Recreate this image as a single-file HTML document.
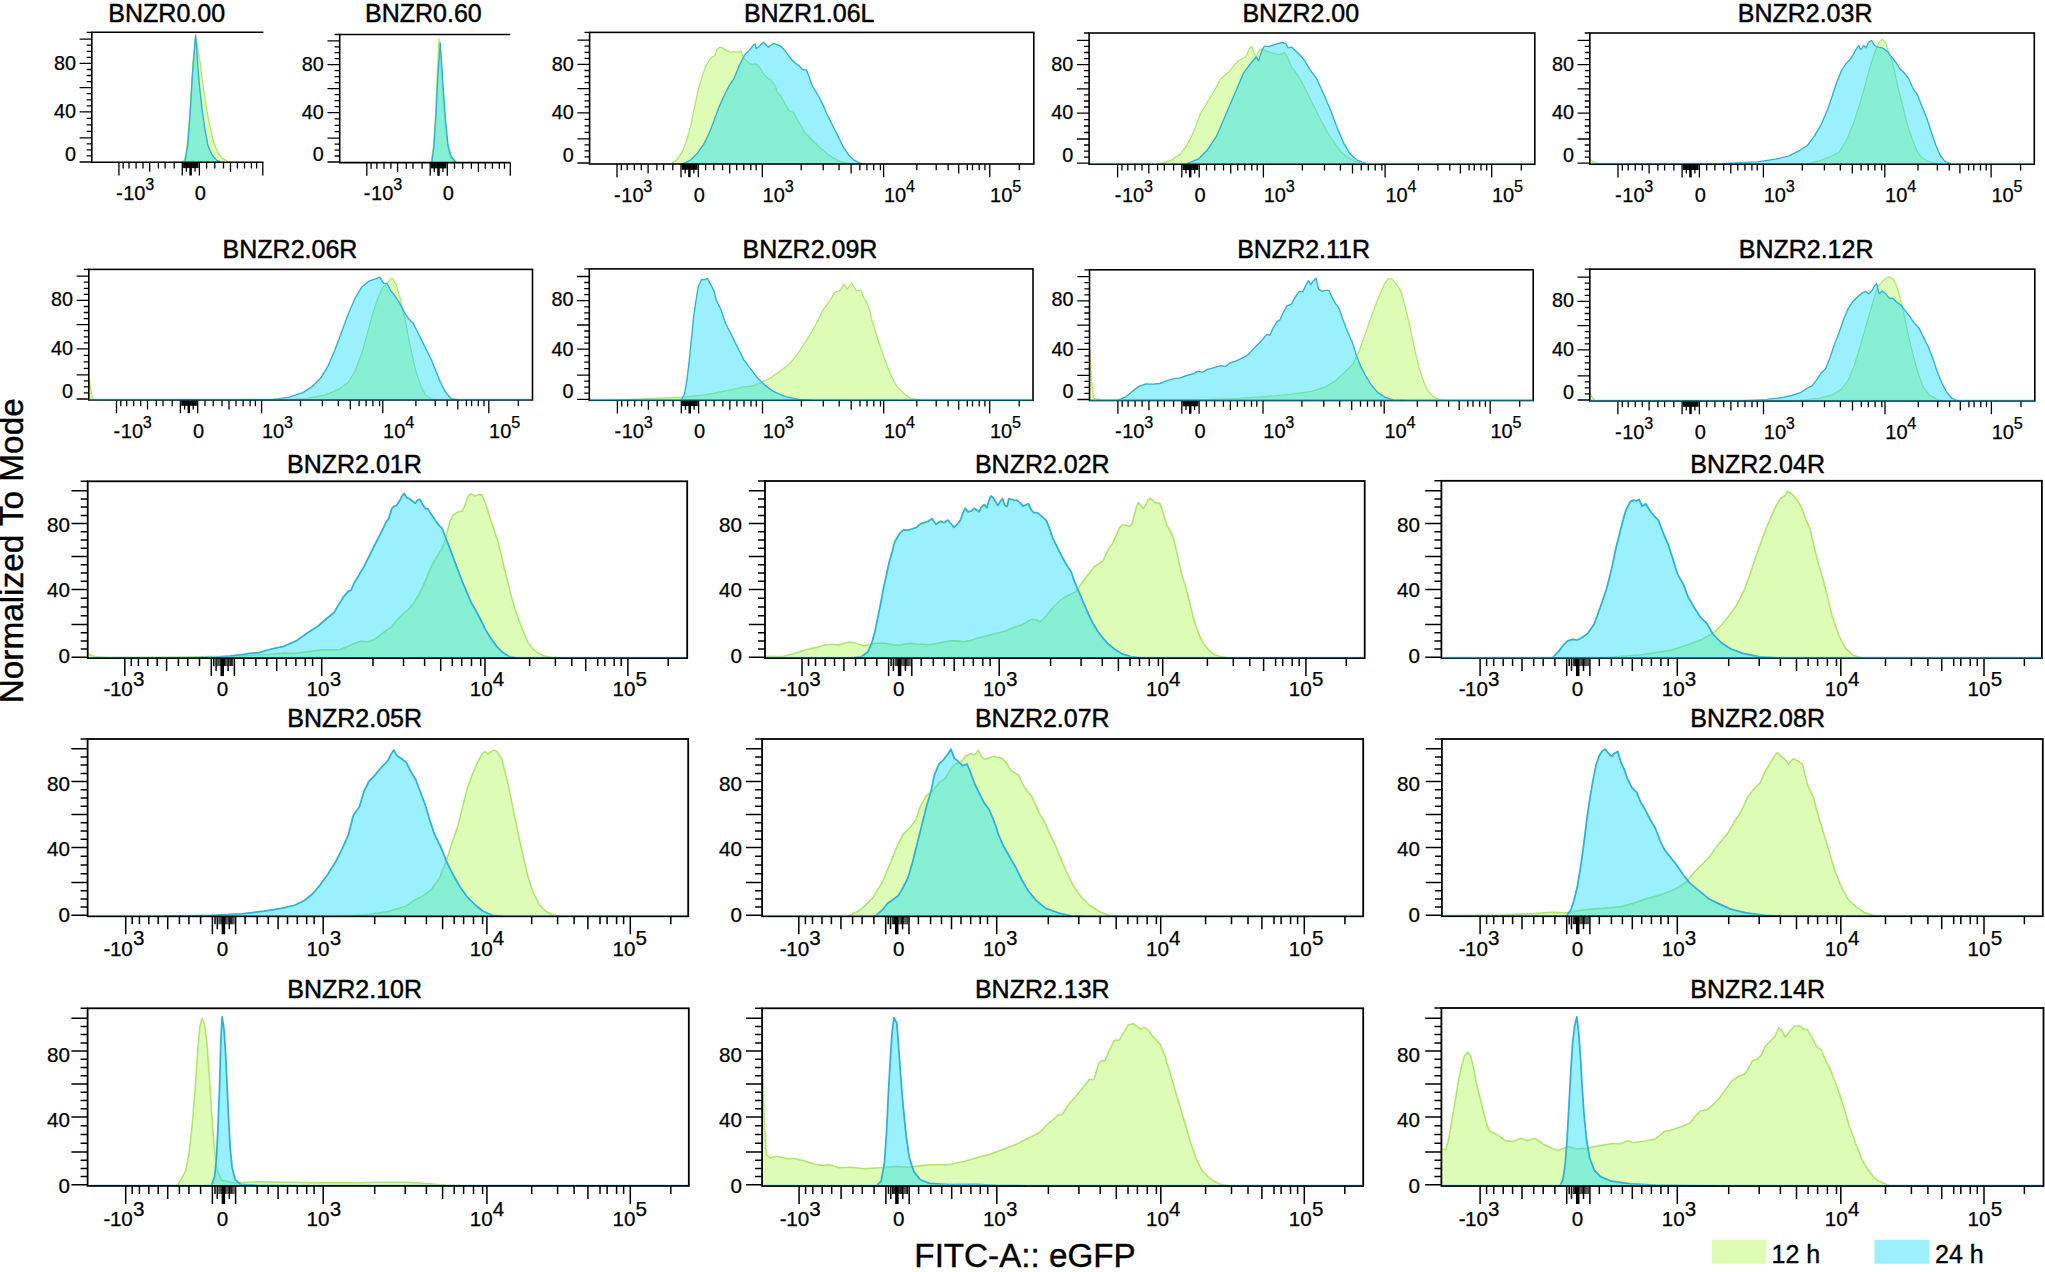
<!DOCTYPE html>
<html lang="en"><head><meta charset="utf-8"><title>FITC-A:: eGFP histograms</title>
<style>
html,body{margin:0;padding:0;background:#fff;}
body{width:2045px;height:1272px;overflow:hidden;font-family:"Liberation Sans", Arial, Helvetica, sans-serif;}
svg{display:block;position:absolute;left:0;top:0;}
</style></head><body>
<svg width="2045" height="1272" viewBox="0 0 2045 1272" font-family="'Liberation Sans', Arial, Helvetica, sans-serif" fill="#000">
<g id="p1">
<text x="166.7" y="21.7" font-size="25" text-anchor="middle" stroke="#000" stroke-width="0.45">BNZR0.00</text>
<clipPath id="cp1"><rect x="91.8" y="32.3" width="171.6" height="131"/></clipPath>
<g clip-path="url(#cp1)">
<path d="M183.8,162.3L183.8,161.5L186.1,153.6L188.5,130.1L190.8,98.6L193.2,59.3L195.6,35.7L197.9,48.3L200.3,64L202.6,82.9L205.8,103.3L208.9,122.2L212.9,139.5L216.8,150.5L221.5,157.6L227.8,161.5L227.8,162.3Z" fill="rgba(178,253,90,0.43)"/>
<path d="M183.8,161.5L186.1,153.6L188.5,130.1L190.8,98.6L193.2,59.3L195.6,35.7L197.9,48.3L200.3,64L202.6,82.9L205.8,103.3L208.9,122.2L212.9,139.5L216.8,150.5L221.5,157.6L227.8,161.5" fill="none" stroke="#b1e56e" stroke-width="1.25" stroke-linejoin="round"/>
<path d="M185,162.3L185,161.5L187.7,145.8L190.1,114.3L192.4,75L194.5,48.3L195.6,34.9L196.7,48.3L197.9,67.2L199.5,86L201.9,108.1L205,130.1L208.1,145.8L212.1,155.2L216.8,160.4L219.9,161.5L219.9,162.3Z" fill="rgba(22,220,250,0.43)"/>
<path d="M185,161.5L187.7,145.8L190.1,114.3L192.4,75L194.5,48.3L195.6,34.9L196.7,48.3L197.9,67.2L199.5,86L201.9,108.1L205,130.1L208.1,145.8L212.1,155.2L216.8,160.4L219.9,161.5" fill="none" stroke="#2fb0d4" stroke-width="1.35" stroke-linejoin="round"/>
</g>
<path d="M263.4,32.3H91.8V162.3H263.4" fill="none" stroke="#000" stroke-width="1.6"/>
<path d="M86.7,32.3h5.1M79.6,162h12.2M86.7,155.9h5.1M86.7,149.9h5.1M86.7,143.8h5.1M79.6,137.8h12.2M86.7,131.3h5.1M86.7,124.8h5.1M86.7,118.4h5.1M79.6,111.9h12.2M86.7,105.8h5.1M86.7,99.8h5.1M86.7,93.7h5.1M79.6,87.7h12.2M86.7,81.6h5.1M86.7,75.5h5.1M86.7,69.5h5.1M79.6,63.4h12.2M86.7,57.4h5.1M86.7,51.3h5.1M86.7,45.2h5.1M79.6,39.2h12.2" stroke="#000" stroke-width="1.3" fill="none"/>
<text x="75.9" y="69.5" font-size="19.8" stroke="#000" stroke-width="0.25" text-anchor="end">80</text>
<text x="75.9" y="118" font-size="19.8" stroke="#000" stroke-width="0.25" text-anchor="end">40</text>
<text x="75.9" y="161" font-size="19.8" stroke="#000" stroke-width="0.25" text-anchor="end">0</text>
<rect x="183.1" y="162.3" width="15.5" height="5.8" fill="#000" opacity="0.95"/>
<path d="M118.9,162.3v13.2M123.2,162.3v6.2M129,162.3v6.2M136.1,162.3v6.2M143,162.3v6.2M149.7,162.3v9.4M158.4,162.3v6.2M165.1,162.3v6.2M174.2,162.3v6.2M182.3,162.3v13.2M199.4,162.3v13.2M206.6,162.3v6.2M214.8,162.3v6.2M223.5,162.3v6.2M230.5,162.3v9.4M237.4,162.3v6.2M244.5,162.3v6.2M251.4,162.3v6.2M256.6,162.3v6.2M262.8,162.3v13.2M186.4,162.3v9.4M195,162.3v9.4" stroke="#000" stroke-width="1.3" fill="none"/>
<path d="M190.6,162.3v13.2" stroke="#000" stroke-width="2.5" fill="none"/>
<text x="122.6" y="200" font-size="20" stroke="#000" stroke-width="0.25" text-anchor="end">-</text>
<text x="123.2" y="200" font-size="20" stroke="#000" stroke-width="0.25">10<tspan dy="-9.9" dx="-0.2" font-size="16.2">3</tspan></text>
<text x="200.4" y="200" font-size="20" stroke="#000" stroke-width="0.25" text-anchor="middle">0</text>
</g>
<g id="p2">
<text x="423.4" y="21.7" font-size="25" text-anchor="middle" stroke="#000" stroke-width="0.45">BNZR0.60</text>
<clipPath id="cp2"><rect x="339.7" y="34.5" width="170.6" height="129.1"/></clipPath>
<g clip-path="url(#cp2)">
<path d="M431.3,162.6L431.3,162L433.5,145.8L435.6,114.3L437.1,75L439,38.9L440.8,59.3L442.6,90.8L445,122.2L447.4,145.8L450.5,157.6L454.4,162L454.4,162.6Z" fill="rgba(178,253,90,0.43)"/>
<path d="M431.3,162L433.5,145.8L435.6,114.3L437.1,75L439,38.9L440.8,59.3L442.6,90.8L445,122.2L447.4,145.8L450.5,157.6L454.4,162" fill="none" stroke="#b1e56e" stroke-width="1.25" stroke-linejoin="round"/>
<path d="M431.9,162.6L431.9,162L434,145.8L436,114.3L437.9,75L440.3,42.8L441.4,59.3L443.4,90.8L445.8,122.2L448.1,145.8L451.3,156.8L456,162L456,162.6Z" fill="rgba(22,220,250,0.43)"/>
<path d="M431.9,162L434,145.8L436,114.3L437.9,75L440.3,42.8L441.4,59.3L443.4,90.8L445.8,122.2L448.1,145.8L451.3,156.8L456,162" fill="none" stroke="#2fb0d4" stroke-width="1.35" stroke-linejoin="round"/>
</g>
<path d="M510.3,34.5H339.7V162.6H510.3" fill="none" stroke="#000" stroke-width="1.6"/>
<path d="M334.6,34.5h5.1M327.5,162h12.2M334.6,156h5.1M334.6,150.1h5.1M334.6,144.1h5.1M327.5,138.1h12.2M334.6,131.7h5.1M334.6,125.3h5.1M334.6,118.9h5.1M327.5,112.6h12.2M334.6,106.6h5.1M334.6,100.6h5.1M334.6,94.6h5.1M327.5,88.6h12.2M334.6,82.6h5.1M334.6,76.7h5.1M334.6,70.7h5.1M327.5,64.7h12.2M334.6,58.7h5.1M334.6,52.7h5.1M334.6,46.8h5.1M327.5,40.8h12.2" stroke="#000" stroke-width="1.3" fill="none"/>
<text x="323.8" y="70.8" font-size="19.8" stroke="#000" stroke-width="0.25" text-anchor="end">80</text>
<text x="323.8" y="118.6" font-size="19.8" stroke="#000" stroke-width="0.25" text-anchor="end">40</text>
<text x="323.8" y="161" font-size="19.8" stroke="#000" stroke-width="0.25" text-anchor="end">0</text>
<rect x="431" y="162.6" width="15.5" height="5.8" fill="#000" opacity="0.95"/>
<path d="M366.8,162.6v13.2M371.1,162.6v6.2M376.9,162.6v6.2M384,162.6v6.2M390.9,162.6v6.2M397.6,162.6v9.4M406.3,162.6v6.2M413,162.6v6.2M422.1,162.6v6.2M430.2,162.6v13.2M447.3,162.6v13.2M454.5,162.6v6.2M462.7,162.6v6.2M471.4,162.6v6.2M478.4,162.6v9.4M485.3,162.6v6.2M492.4,162.6v6.2M499.3,162.6v6.2M504.5,162.6v6.2M510.3,162.6v13.2M434.3,162.6v9.4M442.9,162.6v9.4" stroke="#000" stroke-width="1.3" fill="none"/>
<path d="M438.5,162.6v13.2" stroke="#000" stroke-width="2.5" fill="none"/>
<text x="370.5" y="200.3" font-size="20" stroke="#000" stroke-width="0.25" text-anchor="end">-</text>
<text x="371.1" y="200.3" font-size="20" stroke="#000" stroke-width="0.25">10<tspan dy="-9.9" dx="-0.2" font-size="16.2">3</tspan></text>
<text x="448.3" y="200.3" font-size="20" stroke="#000" stroke-width="0.25" text-anchor="middle">0</text>
</g>
<g id="p3">
<text x="809.2" y="21.7" font-size="25" text-anchor="middle" stroke="#000" stroke-width="0.45">BNZR1.06L</text>
<clipPath id="cp3"><rect x="589.6" y="32.4" width="444.2" height="132.6"/></clipPath>
<g clip-path="url(#cp3)">
<path d="M671.8,164L671.8,163.6L678.1,158.5L683.2,149.6L687,139.4L690.9,125.4L694.7,106.4L698.5,88.6L702.3,75.9L706.1,65.7L709.9,59.3L712.5,56.8L715,55.5L716.9,49.8L719.5,47.2L722.6,47.9L726.5,50.4L730.3,52.3L734.1,51.7L737.9,52.3L741.1,51.1L743,56.8L746.2,60.6L749.3,63.1L751.9,64.4L755.7,63.8L759.5,67L763.3,73.3L767.1,77.8L771,80.3L774.8,84.8L777.3,92.4L781.1,96.2L784.9,103.8L788.8,110.2L793.8,112.7L797.7,120.4L801.5,126.7L805.3,133.1L810.4,138.2L815.5,143.2L820.5,148.3L826.9,153.4L833.3,157.9L840.9,161.7L849.8,163.6L849.8,164Z" fill="rgba(178,253,90,0.43)"/>
<path d="M671.8,163.6L678.1,158.5L683.2,149.6L687,139.4L690.9,125.4L694.7,106.4L698.5,88.6L702.3,75.9L706.1,65.7L709.9,59.3L712.5,56.8L715,55.5L716.9,49.8L719.5,47.2L722.6,47.9L726.5,50.4L730.3,52.3L734.1,51.7L737.9,52.3L741.1,51.1L743,56.8L746.2,60.6L749.3,63.1L751.9,64.4L755.7,63.8L759.5,67L763.3,73.3L767.1,77.8L771,80.3L774.8,84.8L777.3,92.4L781.1,96.2L784.9,103.8L788.8,110.2L793.8,112.7L797.7,120.4L801.5,126.7L805.3,133.1L810.4,138.2L815.5,143.2L820.5,148.3L826.9,153.4L833.3,157.9L840.9,161.7L849.8,163.6" fill="none" stroke="#b1e56e" stroke-width="1.25" stroke-linejoin="round"/>
<path d="M683.2,164L683.2,163.6L690.9,159.8L697.2,153.4L703.6,144.5L708.7,134.3L713.7,121.6L718.8,107.6L723.9,96.2L729,86L734.1,78.4L739.2,65.7L744.3,55.5L749.3,50.4L753.2,45.3L755.1,44.1L756.3,48.5L759.5,46L763.3,42.2L766.5,45.3L768.4,47.2L771,45.3L773.5,43.4L777.3,44.7L781.1,46.6L783.7,49.2L787.5,54.2L791.3,59.3L795.1,63.1L798.9,65.7L802.7,69.5L806.6,70.1L809.1,77.1L812.3,86L815.5,91.1L819.3,97.5L823.1,105.1L826.9,114L830.7,121.6L834.5,129.3L838.3,136.9L843.4,147.1L848.5,154.7L853.6,159.8L858.7,162.7L863.8,163.8L863.8,164Z" fill="rgba(22,220,250,0.43)"/>
<path d="M683.2,163.6L690.9,159.8L697.2,153.4L703.6,144.5L708.7,134.3L713.7,121.6L718.8,107.6L723.9,96.2L729,86L734.1,78.4L739.2,65.7L744.3,55.5L749.3,50.4L753.2,45.3L755.1,44.1L756.3,48.5L759.5,46L763.3,42.2L766.5,45.3L768.4,47.2L771,45.3L773.5,43.4L777.3,44.7L781.1,46.6L783.7,49.2L787.5,54.2L791.3,59.3L795.1,63.1L798.9,65.7L802.7,69.5L806.6,70.1L809.1,77.1L812.3,86L815.5,91.1L819.3,97.5L823.1,105.1L826.9,114L830.7,121.6L834.5,129.3L838.3,136.9L843.4,147.1L848.5,154.7L853.6,159.8L858.7,162.7L863.8,163.8" fill="none" stroke="#2fb0d4" stroke-width="1.35" stroke-linejoin="round"/>
</g>
<rect x="589.6" y="32.4" width="444.2" height="131.6" fill="none" stroke="#000" stroke-width="1.6"/>
<path d="M584.5,32.4h5.1M577.4,163h12.2M584.5,156.9h5.1M584.5,150.9h5.1M584.5,144.8h5.1M577.4,138.8h12.2M584.5,132.3h5.1M584.5,125.8h5.1M584.5,119.4h5.1M577.4,112.9h12.2M584.5,106.8h5.1M584.5,100.8h5.1M584.5,94.7h5.1M577.4,88.7h12.2M584.5,82.6h5.1M584.5,76.5h5.1M584.5,70.5h5.1M577.4,64.4h12.2M584.5,58.4h5.1M584.5,52.3h5.1M584.5,46.2h5.1M577.4,40.2h12.2" stroke="#000" stroke-width="1.3" fill="none"/>
<text x="573.7" y="70.5" font-size="19.8" stroke="#000" stroke-width="0.25" text-anchor="end">80</text>
<text x="573.7" y="119" font-size="19.8" stroke="#000" stroke-width="0.25" text-anchor="end">40</text>
<text x="573.7" y="162" font-size="19.8" stroke="#000" stroke-width="0.25" text-anchor="end">0</text>
<rect x="681.8" y="164" width="15.7" height="5.8" fill="#000" opacity="0.95"/>
<path d="M617,164v13.2M621.3,164v6.2M627.2,164v6.2M634.3,164v6.2M641.3,164v6.2M648.1,164v9.4M656.9,164v6.2M663.6,164v6.2M672.8,164v6.2M681,164v13.2M698.3,164v13.2M705.6,164v6.2M713.8,164v6.2M722.6,164v6.2M729.7,164v9.4M736.7,164v6.2M743.8,164v6.2M750.8,164v6.2M756.1,164v6.2M762.3,164v13.2M801.2,164v6.2M823.2,164v6.2M839.1,164v6.2M851.1,164v9.4M859.9,164v6.2M866.9,164v6.2M873.7,164v6.2M880.4,164v6.2M883.6,164v13.2M916.8,164v6.2M936.2,164v6.2M948.1,164v6.2M958.7,164v9.4M967.3,164v6.2M972.5,164v6.2M979.2,164v6.2M984.9,164v6.2M989.8,164v13.2M1019.3,164v6.2M685.2,164v9.4M693.9,164v9.4" stroke="#000" stroke-width="1.3" fill="none"/>
<path d="M689.4,164v13.2" stroke="#000" stroke-width="2.5" fill="none"/>
<text x="620.7" y="201.7" font-size="20" stroke="#000" stroke-width="0.25" text-anchor="end">-</text>
<text x="621.3" y="201.7" font-size="20" stroke="#000" stroke-width="0.25">10<tspan dy="-9.9" dx="-0.2" font-size="16.2">3</tspan></text>
<text x="762.6" y="201.7" font-size="20" stroke="#000" stroke-width="0.25">10<tspan dy="-9.9" dx="-0.2" font-size="16.2">3</tspan></text>
<text x="883.9" y="201.7" font-size="20" stroke="#000" stroke-width="0.25">10<tspan dy="-9.9" dx="-0.2" font-size="16.2">4</tspan></text>
<text x="990.1" y="201.7" font-size="20" stroke="#000" stroke-width="0.25">10<tspan dy="-9.9" dx="-0.2" font-size="16.2">5</tspan></text>
<text x="699.2" y="201.7" font-size="20" stroke="#000" stroke-width="0.25" text-anchor="middle">0</text>
</g>
<g id="p4">
<text x="1300.8" y="21.7" font-size="25" text-anchor="middle" stroke="#000" stroke-width="0.45">BNZR2.00</text>
<clipPath id="cp4"><rect x="1089.1" y="33" width="445.7" height="132.2"/></clipPath>
<g clip-path="url(#cp4)">
<path d="M1159.6,164.2L1159.6,163.7L1171,160.3L1180,154.6L1186.9,145.5L1193.7,131.9L1200.5,113.7L1207.3,102.3L1214.2,91L1221,78.4L1227.8,72.8L1234.6,64.8L1239.2,60.3L1246,56.8L1249.4,48.9L1251.7,46.2L1253.9,53.4L1256.2,55.7L1259.6,50L1261.9,48.9L1266.5,51.2L1273.3,53.4L1280.1,54.6L1284.6,52.3L1288.1,59.1L1291.5,67.1L1296,72.8L1301.7,81.9L1307.4,93.2L1314.2,106.9L1321,120.5L1327.8,133L1334.7,143.3L1341.5,152.3L1348.3,158L1355.1,161.4L1364.2,163.7L1364.2,164.2Z" fill="rgba(178,253,90,0.43)"/>
<path d="M1159.6,163.7L1171,160.3L1180,154.6L1186.9,145.5L1193.7,131.9L1200.5,113.7L1207.3,102.3L1214.2,91L1221,78.4L1227.8,72.8L1234.6,64.8L1239.2,60.3L1246,56.8L1249.4,48.9L1251.7,46.2L1253.9,53.4L1256.2,55.7L1259.6,50L1261.9,48.9L1266.5,51.2L1273.3,53.4L1280.1,54.6L1284.6,52.3L1288.1,59.1L1291.5,67.1L1296,72.8L1301.7,81.9L1307.4,93.2L1314.2,106.9L1321,120.5L1327.8,133L1334.7,143.3L1341.5,152.3L1348.3,158L1355.1,161.4L1364.2,163.7" fill="none" stroke="#b1e56e" stroke-width="1.25" stroke-linejoin="round"/>
<path d="M1186.9,164.2L1186.9,163.7L1198.2,159.2L1207.3,150.1L1216.4,136.4L1223.3,120.5L1230.1,104.6L1236.9,88.7L1243.7,72.8L1250.5,63.7L1256.2,56.8L1258.5,60.9L1261.9,50.5L1264.2,46.2L1268.7,46.6L1273.3,45L1277.8,43.7L1282.4,42.5L1285.8,43.7L1288.1,47.8L1291.5,47.1L1296,51.2L1300.6,55.7L1305.1,61.4L1309.7,69.4L1316.5,78.4L1323.3,93.2L1330.1,109.1L1336.9,127.3L1343.8,143.3L1350.6,154.6L1357.4,160.3L1366.5,163.7L1366.5,164.2Z" fill="rgba(22,220,250,0.43)"/>
<path d="M1186.9,163.7L1198.2,159.2L1207.3,150.1L1216.4,136.4L1223.3,120.5L1230.1,104.6L1236.9,88.7L1243.7,72.8L1250.5,63.7L1256.2,56.8L1258.5,60.9L1261.9,50.5L1264.2,46.2L1268.7,46.6L1273.3,45L1277.8,43.7L1282.4,42.5L1285.8,43.7L1288.1,47.8L1291.5,47.1L1296,51.2L1300.6,55.7L1305.1,61.4L1309.7,69.4L1316.5,78.4L1323.3,93.2L1330.1,109.1L1336.9,127.3L1343.8,143.3L1350.6,154.6L1357.4,160.3L1366.5,163.7" fill="none" stroke="#2fb0d4" stroke-width="1.35" stroke-linejoin="round"/>
</g>
<rect x="1089.1" y="33" width="445.7" height="131.2" fill="none" stroke="#000" stroke-width="1.6"/>
<path d="M1084,33h5.1M1076.9,163.2h12.2M1084,157.1h5.1M1084,151.1h5.1M1084,145h5.1M1076.9,139h12.2M1084,132.5h5.1M1084,126h5.1M1084,119.6h5.1M1076.9,113.1h12.2M1084,107h5.1M1084,101h5.1M1084,94.9h5.1M1076.9,88.9h12.2M1084,82.8h5.1M1084,76.7h5.1M1084,70.7h5.1M1076.9,64.6h12.2M1084,58.6h5.1M1084,52.5h5.1M1084,46.4h5.1M1076.9,40.4h12.2" stroke="#000" stroke-width="1.3" fill="none"/>
<text x="1073.2" y="70.7" font-size="19.8" stroke="#000" stroke-width="0.25" text-anchor="end">80</text>
<text x="1073.2" y="119.2" font-size="19.8" stroke="#000" stroke-width="0.25" text-anchor="end">40</text>
<text x="1073.2" y="162.2" font-size="19.8" stroke="#000" stroke-width="0.25" text-anchor="end">0</text>
<rect x="1182.6" y="164.2" width="15.8" height="5.8" fill="#000" opacity="0.95"/>
<path d="M1117.6,164.2v13.2M1121.9,164.2v6.2M1127.8,164.2v6.2M1135,164.2v6.2M1142,164.2v6.2M1148.8,164.2v9.4M1157.6,164.2v6.2M1164.3,164.2v6.2M1173.6,164.2v6.2M1181.8,164.2v13.2M1199.2,164.2v13.2M1206.5,164.2v6.2M1214.7,164.2v6.2M1223.5,164.2v6.2M1230.7,164.2v9.4M1237.7,164.2v6.2M1244.8,164.2v6.2M1251.8,164.2v6.2M1257.2,164.2v6.2M1263.4,164.2v13.2M1302.4,164.2v6.2M1324.5,164.2v6.2M1340.4,164.2v6.2M1352.5,164.2v9.4M1361.3,164.2v6.2M1368.3,164.2v6.2M1375.2,164.2v6.2M1381.9,164.2v6.2M1385.1,164.2v13.2M1418.4,164.2v6.2M1437.9,164.2v6.2M1449.8,164.2v6.2M1460.4,164.2v9.4M1469.1,164.2v6.2M1474.3,164.2v6.2M1481,164.2v6.2M1486.7,164.2v6.2M1491.7,164.2v13.2M1521.3,164.2v6.2M1186,164.2v9.4M1194.7,164.2v9.4" stroke="#000" stroke-width="1.3" fill="none"/>
<path d="M1190.2,164.2v13.2" stroke="#000" stroke-width="2.5" fill="none"/>
<path d="M1090.1,162.9H1533.8" stroke="#7fe3f7" stroke-width="1" opacity="0.45" fill="none"/>
<text x="1121.3" y="201.9" font-size="20" stroke="#000" stroke-width="0.25" text-anchor="end">-</text>
<text x="1121.9" y="201.9" font-size="20" stroke="#000" stroke-width="0.25">10<tspan dy="-9.9" dx="-0.2" font-size="16.2">3</tspan></text>
<text x="1263.7" y="201.9" font-size="20" stroke="#000" stroke-width="0.25">10<tspan dy="-9.9" dx="-0.2" font-size="16.2">3</tspan></text>
<text x="1385.4" y="201.9" font-size="20" stroke="#000" stroke-width="0.25">10<tspan dy="-9.9" dx="-0.2" font-size="16.2">4</tspan></text>
<text x="1492" y="201.9" font-size="20" stroke="#000" stroke-width="0.25">10<tspan dy="-9.9" dx="-0.2" font-size="16.2">5</tspan></text>
<text x="1200" y="201.9" font-size="20" stroke="#000" stroke-width="0.25" text-anchor="middle">0</text>
</g>
<g id="p5">
<text x="1805.1" y="21.7" font-size="25" text-anchor="middle" stroke="#000" stroke-width="0.45">BNZR2.03R</text>
<clipPath id="cp5"><rect x="1589.8" y="33" width="444.5" height="132.2"/></clipPath>
<g clip-path="url(#cp5)">
<path d="M1589.8,164.2L1589.8,159.2L1593.6,161.9L1598.2,163.5L1648.2,163.7L1807.4,163.7L1821,160.3L1830.1,156.9L1839.2,152.3L1846,141L1852.9,125.1L1859.7,104.6L1865.4,84.1L1871.1,63.7L1875.6,50L1879,42.1L1882.4,39.1L1885.8,43.2L1888.1,51.2L1891.5,59.1L1894.9,72.8L1898.3,88.7L1902.9,106.9L1907.4,125.1L1912,138.7L1916.5,150.1L1921.1,156.9L1927.9,161.4L1937,163.7L1937,164.2Z" fill="rgba(178,253,90,0.43)"/>
<path d="M1589.8,159.2L1593.6,161.9L1598.2,163.5L1648.2,163.7L1807.4,163.7L1821,160.3L1830.1,156.9L1839.2,152.3L1846,141L1852.9,125.1L1859.7,104.6L1865.4,84.1L1871.1,63.7L1875.6,50L1879,42.1L1882.4,39.1L1885.8,43.2L1888.1,51.2L1891.5,59.1L1894.9,72.8L1898.3,88.7L1902.9,106.9L1907.4,125.1L1912,138.7L1916.5,150.1L1921.1,156.9L1927.9,161.4L1937,163.7" fill="none" stroke="#b1e56e" stroke-width="1.25" stroke-linejoin="round"/>
<path d="M1721,164.2L1721,163.7L1757.4,161.9L1775.6,159.2L1789.2,155.8L1798.3,151.2L1807.4,145.5L1814.2,136.4L1821,125.1L1827.8,109.1L1832.4,95.5L1836.9,81.9L1841.5,70.5L1846,63.7L1850.6,59.1L1855.1,51.2L1858.5,45.5L1860.8,49.6L1863.8,45.5L1866,47.8L1868.8,42.1L1871.7,40.5L1874.5,45.5L1877.9,47.1L1882.4,47.8L1887,51.2L1891.5,56.8L1896.1,62.5L1899.5,68.2L1904,72.8L1908.6,78.4L1913.1,88.7L1917.7,95.5L1922.2,106.9L1926.8,118.2L1931.3,131.9L1935.9,145.5L1940.4,155.8L1945,161.4L1950.6,163.7L1950.6,164.2Z" fill="rgba(22,220,250,0.43)"/>
<path d="M1721,163.7L1757.4,161.9L1775.6,159.2L1789.2,155.8L1798.3,151.2L1807.4,145.5L1814.2,136.4L1821,125.1L1827.8,109.1L1832.4,95.5L1836.9,81.9L1841.5,70.5L1846,63.7L1850.6,59.1L1855.1,51.2L1858.5,45.5L1860.8,49.6L1863.8,45.5L1866,47.8L1868.8,42.1L1871.7,40.5L1874.5,45.5L1877.9,47.1L1882.4,47.8L1887,51.2L1891.5,56.8L1896.1,62.5L1899.5,68.2L1904,72.8L1908.6,78.4L1913.1,88.7L1917.7,95.5L1922.2,106.9L1926.8,118.2L1931.3,131.9L1935.9,145.5L1940.4,155.8L1945,161.4L1950.6,163.7" fill="none" stroke="#2fb0d4" stroke-width="1.35" stroke-linejoin="round"/>
</g>
<rect x="1589.8" y="33" width="444.5" height="131.2" fill="none" stroke="#000" stroke-width="1.6"/>
<path d="M1584.7,33h5.1M1577.6,163.2h12.2M1584.7,157.1h5.1M1584.7,151.1h5.1M1584.7,145h5.1M1577.6,139h12.2M1584.7,132.5h5.1M1584.7,126h5.1M1584.7,119.6h5.1M1577.6,113.1h12.2M1584.7,107h5.1M1584.7,101h5.1M1584.7,94.9h5.1M1577.6,88.9h12.2M1584.7,82.8h5.1M1584.7,76.7h5.1M1584.7,70.7h5.1M1577.6,64.6h12.2M1584.7,58.6h5.1M1584.7,52.5h5.1M1584.7,46.4h5.1M1577.6,40.4h12.2" stroke="#000" stroke-width="1.3" fill="none"/>
<text x="1573.9" y="70.7" font-size="19.8" stroke="#000" stroke-width="0.25" text-anchor="end">80</text>
<text x="1573.9" y="119.2" font-size="19.8" stroke="#000" stroke-width="0.25" text-anchor="end">40</text>
<text x="1573.9" y="162.2" font-size="19.8" stroke="#000" stroke-width="0.25" text-anchor="end">0</text>
<rect x="1682.9" y="164.2" width="15.7" height="5.8" fill="#000" opacity="0.95"/>
<path d="M1618,164.2v13.2M1622.3,164.2v6.2M1628.2,164.2v6.2M1635.3,164.2v6.2M1642.3,164.2v6.2M1649.1,164.2v9.4M1657.9,164.2v6.2M1664.6,164.2v6.2M1673.9,164.2v6.2M1682.1,164.2v13.2M1699.4,164.2v13.2M1706.7,164.2v6.2M1714.9,164.2v6.2M1723.7,164.2v6.2M1730.8,164.2v9.4M1737.8,164.2v6.2M1744.9,164.2v6.2M1751.9,164.2v6.2M1757.2,164.2v6.2M1763.4,164.2v13.2M1802.3,164.2v6.2M1824.4,164.2v6.2M1840.3,164.2v6.2M1852.3,164.2v9.4M1861.1,164.2v6.2M1868.1,164.2v6.2M1874.9,164.2v6.2M1881.6,164.2v6.2M1884.8,164.2v13.2M1918,164.2v6.2M1937.4,164.2v6.2M1949.3,164.2v6.2M1959.9,164.2v9.4M1968.6,164.2v6.2M1973.8,164.2v6.2M1980.5,164.2v6.2M1986.2,164.2v6.2M1991.1,164.2v13.2M2020.6,164.2v6.2M1686.3,164.2v9.4M1694.9,164.2v9.4" stroke="#000" stroke-width="1.3" fill="none"/>
<path d="M1690.5,164.2v13.2" stroke="#000" stroke-width="2.5" fill="none"/>
<path d="M1590.8,162.9H2033.3" stroke="#7fe3f7" stroke-width="1" opacity="0.45" fill="none"/>
<text x="1621.7" y="201.9" font-size="20" stroke="#000" stroke-width="0.25" text-anchor="end">-</text>
<text x="1622.3" y="201.9" font-size="20" stroke="#000" stroke-width="0.25">10<tspan dy="-9.9" dx="-0.2" font-size="16.2">3</tspan></text>
<text x="1763.7" y="201.9" font-size="20" stroke="#000" stroke-width="0.25">10<tspan dy="-9.9" dx="-0.2" font-size="16.2">3</tspan></text>
<text x="1885.1" y="201.9" font-size="20" stroke="#000" stroke-width="0.25">10<tspan dy="-9.9" dx="-0.2" font-size="16.2">4</tspan></text>
<text x="1991.4" y="201.9" font-size="20" stroke="#000" stroke-width="0.25">10<tspan dy="-9.9" dx="-0.2" font-size="16.2">5</tspan></text>
<text x="1700.3" y="201.9" font-size="20" stroke="#000" stroke-width="0.25" text-anchor="middle">0</text>
</g>
<g id="p6">
<text x="290" y="257.7" font-size="25" text-anchor="middle" stroke="#000" stroke-width="0.45">BNZR2.06R</text>
<clipPath id="cp6"><rect x="88.8" y="269.4" width="443.7" height="131.6"/></clipPath>
<g clip-path="url(#cp6)">
<path d="M89.1,400L89.1,377.8L90.7,389.2L92.5,399.4L102.7,400L284.6,400L307.4,398.3L325.6,394.9L339.2,389.2L348.3,382.3L355.1,371L362,352.8L367.6,332.3L373.3,311.9L377.9,298.2L382.4,288L387,283.4L390.4,278.9L392.7,278.4L396.1,284.6L399.5,295.9L402.9,309.6L406.3,325.5L409.7,343.7L413.1,359.6L416.5,373.3L421.1,386.9L425.6,394.9L432.4,399.4L439.3,400L439.3,400Z" fill="rgba(178,253,90,0.43)"/>
<path d="M89.1,377.8L90.7,389.2L92.5,399.4L102.7,400L284.6,400L307.4,398.3L325.6,394.9L339.2,389.2L348.3,382.3L355.1,371L362,352.8L367.6,332.3L373.3,311.9L377.9,298.2L382.4,288L387,283.4L390.4,278.9L392.7,278.4L396.1,284.6L399.5,295.9L402.9,309.6L406.3,325.5L409.7,343.7L413.1,359.6L416.5,373.3L421.1,386.9L425.6,394.9L432.4,399.4L439.3,400" fill="none" stroke="#b1e56e" stroke-width="1.25" stroke-linejoin="round"/>
<path d="M239.2,400L239.2,400L273.3,399.4L289.2,397.1L302.8,392.6L311.9,386.9L321,377.8L327.8,366.4L334.7,350.5L341.5,332.3L348.3,314.1L355.1,298.2L362,286.8L368.8,281.2L375.6,278.9L379.7,277.1L383.6,283.4L387,283.4L390.4,290.3L394.9,295.9L399.5,302.8L404,311.9L408.6,318.7L413.1,323.2L417.7,332.3L422.2,341.4L426.8,350.5L431.3,359.6L435.9,371L440.4,382.3L445,391.4L450.6,398.3L457.5,400L457.5,400Z" fill="rgba(22,220,250,0.43)"/>
<path d="M239.2,400L273.3,399.4L289.2,397.1L302.8,392.6L311.9,386.9L321,377.8L327.8,366.4L334.7,350.5L341.5,332.3L348.3,314.1L355.1,298.2L362,286.8L368.8,281.2L375.6,278.9L379.7,277.1L383.6,283.4L387,283.4L390.4,290.3L394.9,295.9L399.5,302.8L404,311.9L408.6,318.7L413.1,323.2L417.7,332.3L422.2,341.4L426.8,350.5L431.3,359.6L435.9,371L440.4,382.3L445,391.4L450.6,398.3L457.5,400" fill="none" stroke="#2fb0d4" stroke-width="1.35" stroke-linejoin="round"/>
</g>
<rect x="88.8" y="269.4" width="443.7" height="130.6" fill="none" stroke="#000" stroke-width="1.6"/>
<path d="M83.7,269.4h5.1M76.6,399h12.2M83.7,392.9h5.1M83.7,386.9h5.1M83.7,380.9h5.1M76.6,374.8h12.2M83.7,368.3h5.1M83.7,361.9h5.1M83.7,355.4h5.1M76.6,348.9h12.2M83.7,342.8h5.1M83.7,336.8h5.1M83.7,330.7h5.1M76.6,324.7h12.2M83.7,318.6h5.1M83.7,312.5h5.1M83.7,306.5h5.1M76.6,300.4h12.2M83.7,294.4h5.1M83.7,288.3h5.1M83.7,282.2h5.1M76.6,276.2h12.2" stroke="#000" stroke-width="1.3" fill="none"/>
<text x="72.9" y="305.7" font-size="19.8" stroke="#000" stroke-width="0.25" text-anchor="end">80</text>
<text x="72.9" y="355.3" font-size="19.8" stroke="#000" stroke-width="0.25" text-anchor="end">40</text>
<text x="72.9" y="397.5" font-size="19.8" stroke="#000" stroke-width="0.25" text-anchor="end">0</text>
<rect x="181.2" y="400" width="15.7" height="5.8" fill="#000" opacity="0.95"/>
<path d="M116.5,400v13.2M120.8,400v6.2M126.7,400v6.2M133.7,400v6.2M140.7,400v6.2M147.5,400v9.4M156.3,400v6.2M163,400v6.2M172.2,400v6.2M180.4,400v13.2M197.7,400v13.2M205,400v6.2M213.2,400v6.2M222,400v6.2M229,400v9.4M236,400v6.2M243.1,400v6.2M250.1,400v6.2M255.4,400v6.2M261.6,400v13.2M300.5,400v6.2M322.4,400v6.2M338.3,400v6.2M350.3,400v9.4M359.1,400v6.2M366.1,400v6.2M372.9,400v6.2M379.6,400v6.2M382.8,400v13.2M415.9,400v6.2M435.3,400v6.2M447.2,400v6.2M457.8,400v9.4M466.4,400v6.2M471.6,400v6.2M478.3,400v6.2M484,400v6.2M488.8,400v13.2M518.3,400v6.2M184.6,400v9.4M193.2,400v9.4" stroke="#000" stroke-width="1.3" fill="none"/>
<path d="M188.8,400v13.2" stroke="#000" stroke-width="2.5" fill="none"/>
<path d="M88.8,399.8H532.5" stroke="#2fb0d4" stroke-width="1.2" opacity="0.55" fill="none"/>
<path d="M89.8,398.7H531.5" stroke="#7fe3f7" stroke-width="1" opacity="0.45" fill="none"/>
<text x="120.2" y="437.7" font-size="20" stroke="#000" stroke-width="0.25" text-anchor="end">-</text>
<text x="120.8" y="437.7" font-size="20" stroke="#000" stroke-width="0.25">10<tspan dy="-9.9" dx="-0.2" font-size="16.2">3</tspan></text>
<text x="261.9" y="437.7" font-size="20" stroke="#000" stroke-width="0.25">10<tspan dy="-9.9" dx="-0.2" font-size="16.2">3</tspan></text>
<text x="383.1" y="437.7" font-size="20" stroke="#000" stroke-width="0.25">10<tspan dy="-9.9" dx="-0.2" font-size="16.2">4</tspan></text>
<text x="489.1" y="437.7" font-size="20" stroke="#000" stroke-width="0.25">10<tspan dy="-9.9" dx="-0.2" font-size="16.2">5</tspan></text>
<text x="198.6" y="437.7" font-size="20" stroke="#000" stroke-width="0.25" text-anchor="middle">0</text>
</g>
<g id="p7">
<text x="810" y="257.7" font-size="25" text-anchor="middle" stroke="#000" stroke-width="0.45">BNZR2.09R</text>
<clipPath id="cp7"><rect x="589.3" y="268.9" width="443.7" height="132.4"/></clipPath>
<g clip-path="url(#cp7)">
<path d="M614.1,400.3L614.1,400.3L648.2,398.7L682.3,397.1L705.1,394.9L721,391.9L734.6,389.2L743.7,386.9L752.8,385.8L761.9,382.3L771,377.8L780.1,371L789.2,364.2L796,356.2L802.8,346L809.7,335.7L816.5,323.2L823.3,309.6L830.1,300.5L834.7,292.5L840.4,290.3L843.8,284.1L847.2,289.1L851.7,283L854,286.8L856.3,290.3L860.8,290.3L864.2,298.2L868.8,307.3L872.2,321L875.6,332.3L880.1,346L884.7,359.6L889.2,371L893.8,381.2L898.3,388L905.2,394.9L912,398.7L921.1,400.3L921.1,400.3Z" fill="rgba(178,253,90,0.43)"/>
<path d="M614.1,400.3L648.2,398.7L682.3,397.1L705.1,394.9L721,391.9L734.6,389.2L743.7,386.9L752.8,385.8L761.9,382.3L771,377.8L780.1,371L789.2,364.2L796,356.2L802.8,346L809.7,335.7L816.5,323.2L823.3,309.6L830.1,300.5L834.7,292.5L840.4,290.3L843.8,284.1L847.2,289.1L851.7,283L854,286.8L856.3,290.3L860.8,290.3L864.2,298.2L868.8,307.3L872.2,321L875.6,332.3L880.1,346L884.7,359.6L889.2,371L893.8,381.2L898.3,388L905.2,394.9L912,398.7L921.1,400.3" fill="none" stroke="#b1e56e" stroke-width="1.25" stroke-linejoin="round"/>
<path d="M681.2,400.3L681.2,400.3L684.6,393.7L686.9,380.1L689.1,361.9L691.4,339.1L693.7,316.4L696,300.5L698.2,286.8L701.7,279.3L705.1,279.6L707.3,278.4L710.7,284.6L714.2,291.4L716.4,300.5L721,309.6L725.5,323.2L730.1,332.3L734.6,341.4L739.2,350.5L743.7,359.6L750.5,368.7L757.4,377.8L764.2,384.6L773.3,391.4L784.6,396.4L798.3,399.4L811.9,400.3L811.9,400.3Z" fill="rgba(22,220,250,0.43)"/>
<path d="M681.2,400.3L684.6,393.7L686.9,380.1L689.1,361.9L691.4,339.1L693.7,316.4L696,300.5L698.2,286.8L701.7,279.3L705.1,279.6L707.3,278.4L710.7,284.6L714.2,291.4L716.4,300.5L721,309.6L725.5,323.2L730.1,332.3L734.6,341.4L739.2,350.5L743.7,359.6L750.5,368.7L757.4,377.8L764.2,384.6L773.3,391.4L784.6,396.4L798.3,399.4L811.9,400.3" fill="none" stroke="#2fb0d4" stroke-width="1.35" stroke-linejoin="round"/>
</g>
<rect x="589.3" y="268.9" width="443.7" height="131.4" fill="none" stroke="#000" stroke-width="1.6"/>
<path d="M584.2,268.9h5.1M577.1,399.3h12.2M584.2,393.2h5.1M584.2,387.2h5.1M584.2,381.2h5.1M577.1,375.1h12.2M584.2,368.6h5.1M584.2,362.2h5.1M584.2,355.7h5.1M577.1,349.2h12.2M584.2,343.1h5.1M584.2,337.1h5.1M584.2,331h5.1M577.1,325h12.2M584.2,318.9h5.1M584.2,312.8h5.1M584.2,306.8h5.1M577.1,300.7h12.2M584.2,294.7h5.1M584.2,288.6h5.1M584.2,282.5h5.1M577.1,276.5h12.2" stroke="#000" stroke-width="1.3" fill="none"/>
<text x="573.4" y="306" font-size="19.8" stroke="#000" stroke-width="0.25" text-anchor="end">80</text>
<text x="573.4" y="355.6" font-size="19.8" stroke="#000" stroke-width="0.25" text-anchor="end">40</text>
<text x="573.4" y="397.8" font-size="19.8" stroke="#000" stroke-width="0.25" text-anchor="end">0</text>
<rect x="682.1" y="400.3" width="15.7" height="5.8" fill="#000" opacity="0.95"/>
<path d="M617.4,400.3v13.2M621.7,400.3v6.2M627.6,400.3v6.2M634.6,400.3v6.2M641.6,400.3v6.2M648.4,400.3v9.4M657.2,400.3v6.2M663.9,400.3v6.2M673.1,400.3v6.2M681.3,400.3v13.2M698.6,400.3v13.2M705.9,400.3v6.2M714.1,400.3v6.2M722.9,400.3v6.2M729.9,400.3v9.4M736.9,400.3v6.2M744,400.3v6.2M751,400.3v6.2M756.3,400.3v6.2M762.5,400.3v13.2M801.4,400.3v6.2M823.3,400.3v6.2M839.2,400.3v6.2M851.2,400.3v9.4M860,400.3v6.2M867,400.3v6.2M873.8,400.3v6.2M880.5,400.3v6.2M883.7,400.3v13.2M916.8,400.3v6.2M936.2,400.3v6.2M948.1,400.3v6.2M958.7,400.3v9.4M967.3,400.3v6.2M972.5,400.3v6.2M979.2,400.3v6.2M984.9,400.3v6.2M989.7,400.3v13.2M1019.2,400.3v6.2M685.5,400.3v9.4M694.1,400.3v9.4" stroke="#000" stroke-width="1.3" fill="none"/>
<path d="M689.7,400.3v13.2" stroke="#000" stroke-width="2.5" fill="none"/>
<path d="M589.3,400.1H1033" stroke="#2fb0d4" stroke-width="1.2" opacity="0.55" fill="none"/>
<path d="M590.3,399H1032" stroke="#7fe3f7" stroke-width="1" opacity="0.45" fill="none"/>
<text x="621.1" y="438" font-size="20" stroke="#000" stroke-width="0.25" text-anchor="end">-</text>
<text x="621.7" y="438" font-size="20" stroke="#000" stroke-width="0.25">10<tspan dy="-9.9" dx="-0.2" font-size="16.2">3</tspan></text>
<text x="762.8" y="438" font-size="20" stroke="#000" stroke-width="0.25">10<tspan dy="-9.9" dx="-0.2" font-size="16.2">3</tspan></text>
<text x="884" y="438" font-size="20" stroke="#000" stroke-width="0.25">10<tspan dy="-9.9" dx="-0.2" font-size="16.2">4</tspan></text>
<text x="990" y="438" font-size="20" stroke="#000" stroke-width="0.25">10<tspan dy="-9.9" dx="-0.2" font-size="16.2">5</tspan></text>
<text x="699.5" y="438" font-size="20" stroke="#000" stroke-width="0.25" text-anchor="middle">0</text>
</g>
<g id="p8">
<text x="1303.6" y="257.7" font-size="25" text-anchor="middle" stroke="#000" stroke-width="0.45">BNZR2.11R</text>
<clipPath id="cp8"><rect x="1089.5" y="269.8" width="443.7" height="131.7"/></clipPath>
<g clip-path="url(#cp8)">
<path d="M1089.6,400.5L1089.6,348.2L1091.4,377.8L1093.6,398.3L1102.7,400.1L1193.7,400.1L1239.2,398.3L1273.3,396L1296,393.7L1311.9,391.4L1325.6,386.9L1334.7,381.2L1343.8,373.3L1352.9,364.2L1358.5,352.8L1364.2,336.9L1369.9,321L1375.6,305L1380.1,293.7L1384.7,283.4L1388.1,278.9L1391.5,278.9L1394.9,282.3L1398.3,286.8L1401.7,293.7L1405.2,307.3L1408.6,321L1412,336.9L1415.4,352.8L1418.8,366.4L1422.2,377.8L1426.8,389.2L1432.4,396L1439.3,399.9L1443.8,400.5L1443.8,400.5Z" fill="rgba(178,253,90,0.43)"/>
<path d="M1089.6,348.2L1091.4,377.8L1093.6,398.3L1102.7,400.1L1193.7,400.1L1239.2,398.3L1273.3,396L1296,393.7L1311.9,391.4L1325.6,386.9L1334.7,381.2L1343.8,373.3L1352.9,364.2L1358.5,352.8L1364.2,336.9L1369.9,321L1375.6,305L1380.1,293.7L1384.7,283.4L1388.1,278.9L1391.5,278.9L1394.9,282.3L1398.3,286.8L1401.7,293.7L1405.2,307.3L1408.6,321L1412,336.9L1415.4,352.8L1418.8,366.4L1422.2,377.8L1426.8,389.2L1432.4,396L1439.3,399.9L1443.8,400.5" fill="none" stroke="#b1e56e" stroke-width="1.25" stroke-linejoin="round"/>
<path d="M1117.5,400.5L1117.5,400.3L1125.5,397.1L1132.3,391.4L1139.1,386.4L1145.9,383.9L1152.8,384.2L1159.6,383.5L1166.4,380.8L1173.2,378.9L1180,377.8L1186.9,375.5L1193.7,373.7L1197.1,371.4L1202.8,372.1L1207.3,369.4L1214.2,367.6L1221,365.7L1225.5,366.4L1230.1,363L1236.9,360.7L1243.7,357.3L1248.3,354.6L1252.8,349.4L1257.4,344.8L1261.9,340.3L1266.5,334.6L1269.9,335.1L1273.3,327.8L1276.7,322.1L1280.1,319.8L1283.5,311.9L1286.9,306.2L1291.5,303.9L1296,295.9L1299.4,291.4L1302.8,291.8L1306.2,284.6L1308.5,280.5L1310.8,284.6L1313.1,281.2L1316,278.2L1318.8,289.1L1322.2,291.4L1325.6,290.3L1329,290.3L1332.4,298.2L1335.8,303.9L1339.2,308.4L1342.6,318.7L1346,327.8L1349.4,335.7L1352.9,343.7L1356.3,355.1L1360.8,366.4L1365.4,375.5L1371.1,384.6L1377.9,392.6L1384.7,397.1L1393.8,400.1L1402.9,400.5L1402.9,400.5Z" fill="rgba(22,220,250,0.43)"/>
<path d="M1117.5,400.3L1125.5,397.1L1132.3,391.4L1139.1,386.4L1145.9,383.9L1152.8,384.2L1159.6,383.5L1166.4,380.8L1173.2,378.9L1180,377.8L1186.9,375.5L1193.7,373.7L1197.1,371.4L1202.8,372.1L1207.3,369.4L1214.2,367.6L1221,365.7L1225.5,366.4L1230.1,363L1236.9,360.7L1243.7,357.3L1248.3,354.6L1252.8,349.4L1257.4,344.8L1261.9,340.3L1266.5,334.6L1269.9,335.1L1273.3,327.8L1276.7,322.1L1280.1,319.8L1283.5,311.9L1286.9,306.2L1291.5,303.9L1296,295.9L1299.4,291.4L1302.8,291.8L1306.2,284.6L1308.5,280.5L1310.8,284.6L1313.1,281.2L1316,278.2L1318.8,289.1L1322.2,291.4L1325.6,290.3L1329,290.3L1332.4,298.2L1335.8,303.9L1339.2,308.4L1342.6,318.7L1346,327.8L1349.4,335.7L1352.9,343.7L1356.3,355.1L1360.8,366.4L1365.4,375.5L1371.1,384.6L1377.9,392.6L1384.7,397.1L1393.8,400.1L1402.9,400.5" fill="none" stroke="#2fb0d4" stroke-width="1.35" stroke-linejoin="round"/>
</g>
<rect x="1089.5" y="269.8" width="443.7" height="130.7" fill="none" stroke="#000" stroke-width="1.6"/>
<path d="M1084.4,269.8h5.1M1077.3,399.5h12.2M1084.4,393.4h5.1M1084.4,387.4h5.1M1084.4,381.4h5.1M1077.3,375.3h12.2M1084.4,368.8h5.1M1084.4,362.4h5.1M1084.4,355.9h5.1M1077.3,349.4h12.2M1084.4,343.3h5.1M1084.4,337.3h5.1M1084.4,331.2h5.1M1077.3,325.2h12.2M1084.4,319.1h5.1M1084.4,313h5.1M1084.4,307h5.1M1077.3,300.9h12.2M1084.4,294.9h5.1M1084.4,288.8h5.1M1084.4,282.7h5.1M1077.3,276.7h12.2" stroke="#000" stroke-width="1.3" fill="none"/>
<text x="1073.6" y="306.2" font-size="19.8" stroke="#000" stroke-width="0.25" text-anchor="end">80</text>
<text x="1073.6" y="355.8" font-size="19.8" stroke="#000" stroke-width="0.25" text-anchor="end">40</text>
<text x="1073.6" y="398" font-size="19.8" stroke="#000" stroke-width="0.25" text-anchor="end">0</text>
<rect x="1182.6" y="400.5" width="15.7" height="5.8" fill="#000" opacity="0.95"/>
<path d="M1117.9,400.5v13.2M1122.2,400.5v6.2M1128.1,400.5v6.2M1135.1,400.5v6.2M1142.1,400.5v6.2M1148.9,400.5v9.4M1157.7,400.5v6.2M1164.4,400.5v6.2M1173.6,400.5v6.2M1181.8,400.5v13.2M1199.1,400.5v13.2M1206.4,400.5v6.2M1214.6,400.5v6.2M1223.4,400.5v6.2M1230.4,400.5v9.4M1237.4,400.5v6.2M1244.5,400.5v6.2M1251.5,400.5v6.2M1256.8,400.5v6.2M1263,400.5v13.2M1301.9,400.5v6.2M1323.8,400.5v6.2M1339.7,400.5v6.2M1351.7,400.5v9.4M1360.5,400.5v6.2M1367.5,400.5v6.2M1374.3,400.5v6.2M1381,400.5v6.2M1384.2,400.5v13.2M1417.3,400.5v6.2M1436.7,400.5v6.2M1448.6,400.5v6.2M1459.2,400.5v9.4M1467.8,400.5v6.2M1473,400.5v6.2M1479.7,400.5v6.2M1485.4,400.5v6.2M1490.2,400.5v13.2M1519.7,400.5v6.2M1186,400.5v9.4M1194.6,400.5v9.4" stroke="#000" stroke-width="1.3" fill="none"/>
<path d="M1190.2,400.5v13.2" stroke="#000" stroke-width="2.5" fill="none"/>
<path d="M1089.5,400.3H1533.2" stroke="#2fb0d4" stroke-width="1.2" opacity="0.55" fill="none"/>
<path d="M1090.5,399.2H1532.2" stroke="#7fe3f7" stroke-width="1" opacity="0.45" fill="none"/>
<text x="1121.6" y="438.2" font-size="20" stroke="#000" stroke-width="0.25" text-anchor="end">-</text>
<text x="1122.2" y="438.2" font-size="20" stroke="#000" stroke-width="0.25">10<tspan dy="-9.9" dx="-0.2" font-size="16.2">3</tspan></text>
<text x="1263.3" y="438.2" font-size="20" stroke="#000" stroke-width="0.25">10<tspan dy="-9.9" dx="-0.2" font-size="16.2">3</tspan></text>
<text x="1384.5" y="438.2" font-size="20" stroke="#000" stroke-width="0.25">10<tspan dy="-9.9" dx="-0.2" font-size="16.2">4</tspan></text>
<text x="1490.5" y="438.2" font-size="20" stroke="#000" stroke-width="0.25">10<tspan dy="-9.9" dx="-0.2" font-size="16.2">5</tspan></text>
<text x="1200" y="438.2" font-size="20" stroke="#000" stroke-width="0.25" text-anchor="middle">0</text>
</g>
<g id="p9">
<text x="1806.1" y="257.7" font-size="25" text-anchor="middle" stroke="#000" stroke-width="0.45">BNZR2.12R</text>
<clipPath id="cp9"><rect x="1589.8" y="269.1" width="445" height="132.9"/></clipPath>
<g clip-path="url(#cp9)">
<path d="M1589.8,401L1589.8,391.4L1591.8,397.1L1594.8,400.3L1625.5,400.8L1796,400.5L1818.8,398.3L1832.4,394.9L1841.5,389.2L1848.3,380.1L1854,366.4L1859.7,348.2L1864.2,332.3L1868.8,316.4L1873.3,300.5L1877.9,286.8L1882.4,281.2L1885.8,278.2L1888.8,276.8L1892.7,278.9L1896.1,284.6L1899.5,295.9L1902.9,309.6L1906.3,325.5L1909.7,341.4L1914.3,359.6L1918.8,375.5L1923.3,386.9L1929,394.9L1937,399.4L1943.8,400.8L1943.8,401Z" fill="rgba(178,253,90,0.43)"/>
<path d="M1589.8,391.4L1591.8,397.1L1594.8,400.3L1625.5,400.8L1796,400.5L1818.8,398.3L1832.4,394.9L1841.5,389.2L1848.3,380.1L1854,366.4L1859.7,348.2L1864.2,332.3L1868.8,316.4L1873.3,300.5L1877.9,286.8L1882.4,281.2L1885.8,278.2L1888.8,276.8L1892.7,278.9L1896.1,284.6L1899.5,295.9L1902.9,309.6L1906.3,325.5L1909.7,341.4L1914.3,359.6L1918.8,375.5L1923.3,386.9L1929,394.9L1937,399.4L1943.8,400.8" fill="none" stroke="#b1e56e" stroke-width="1.25" stroke-linejoin="round"/>
<path d="M1739.2,401L1739.2,400.8L1766.5,399.4L1780.1,397.8L1791.5,395.5L1800.6,392.6L1807.4,388L1811.9,385.8L1816.5,380.1L1821,373.3L1825.6,368.7L1830.1,357.3L1834.7,343.7L1839.2,332.3L1843.8,318.7L1848.3,308.4L1852.9,301.6L1857.4,297.1L1862,293.2L1865.4,291.4L1868.8,293.7L1872.2,290.3L1874.5,285.7L1876.7,283.4L1879,293.7L1882.4,290.9L1885.8,293.7L1889.2,298.2L1892.7,298.2L1896.1,301.6L1900.6,305L1905.2,310.7L1909.7,316.4L1914.3,323.2L1918.8,327.8L1923.3,336.9L1927.9,346L1932.4,357.3L1937,371L1941.5,382.3L1946.1,391.4L1951.8,398.3L1958.6,400.8L1958.6,401Z" fill="rgba(22,220,250,0.43)"/>
<path d="M1739.2,400.8L1766.5,399.4L1780.1,397.8L1791.5,395.5L1800.6,392.6L1807.4,388L1811.9,385.8L1816.5,380.1L1821,373.3L1825.6,368.7L1830.1,357.3L1834.7,343.7L1839.2,332.3L1843.8,318.7L1848.3,308.4L1852.9,301.6L1857.4,297.1L1862,293.2L1865.4,291.4L1868.8,293.7L1872.2,290.3L1874.5,285.7L1876.7,283.4L1879,293.7L1882.4,290.9L1885.8,293.7L1889.2,298.2L1892.7,298.2L1896.1,301.6L1900.6,305L1905.2,310.7L1909.7,316.4L1914.3,323.2L1918.8,327.8L1923.3,336.9L1927.9,346L1932.4,357.3L1937,371L1941.5,382.3L1946.1,391.4L1951.8,398.3L1958.6,400.8" fill="none" stroke="#2fb0d4" stroke-width="1.35" stroke-linejoin="round"/>
</g>
<rect x="1589.8" y="269.1" width="445" height="131.9" fill="none" stroke="#000" stroke-width="1.6"/>
<path d="M1584.7,269.1h5.1M1577.6,400h12.2M1584.7,393.9h5.1M1584.7,387.9h5.1M1584.7,381.9h5.1M1577.6,375.8h12.2M1584.7,369.3h5.1M1584.7,362.9h5.1M1584.7,356.4h5.1M1577.6,349.9h12.2M1584.7,343.8h5.1M1584.7,337.8h5.1M1584.7,331.7h5.1M1577.6,325.7h12.2M1584.7,319.6h5.1M1584.7,313.5h5.1M1584.7,307.5h5.1M1577.6,301.4h12.2M1584.7,295.4h5.1M1584.7,289.3h5.1M1584.7,283.2h5.1M1577.6,277.2h12.2" stroke="#000" stroke-width="1.3" fill="none"/>
<text x="1573.9" y="306.7" font-size="19.8" stroke="#000" stroke-width="0.25" text-anchor="end">80</text>
<text x="1573.9" y="356.3" font-size="19.8" stroke="#000" stroke-width="0.25" text-anchor="end">40</text>
<text x="1573.9" y="398.5" font-size="19.8" stroke="#000" stroke-width="0.25" text-anchor="end">0</text>
<rect x="1682.9" y="401" width="15.7" height="5.8" fill="#000" opacity="0.95"/>
<path d="M1617.9,401v13.2M1622.3,401v6.2M1628.2,401v6.2M1635.3,401v6.2M1642.3,401v6.2M1649.1,401v9.4M1657.9,401v6.2M1664.6,401v6.2M1673.8,401v6.2M1682.1,401v13.2M1699.4,401v13.2M1706.7,401v6.2M1714.9,401v6.2M1723.7,401v6.2M1730.9,401v9.4M1737.9,401v6.2M1745,401v6.2M1752,401v6.2M1757.3,401v6.2M1763.5,401v13.2M1802.5,401v6.2M1824.5,401v6.2M1840.4,401v6.2M1852.5,401v9.4M1861.3,401v6.2M1868.3,401v6.2M1875.1,401v6.2M1881.8,401v6.2M1885,401v13.2M1918.3,401v6.2M1937.7,401v6.2M1949.6,401v6.2M1960.3,401v9.4M1968.9,401v6.2M1974.1,401v6.2M1980.8,401v6.2M1986.5,401v6.2M1991.4,401v13.2M2021,401v6.2M1686.3,401v9.4M1694.9,401v9.4" stroke="#000" stroke-width="1.3" fill="none"/>
<path d="M1690.5,401v13.2" stroke="#000" stroke-width="2.5" fill="none"/>
<path d="M1589.8,400.8H2034.8" stroke="#2fb0d4" stroke-width="1.2" opacity="0.55" fill="none"/>
<path d="M1590.8,399.7H2033.8" stroke="#7fe3f7" stroke-width="1" opacity="0.45" fill="none"/>
<text x="1621.6" y="438.7" font-size="20" stroke="#000" stroke-width="0.25" text-anchor="end">-</text>
<text x="1622.2" y="438.7" font-size="20" stroke="#000" stroke-width="0.25">10<tspan dy="-9.9" dx="-0.2" font-size="16.2">3</tspan></text>
<text x="1763.8" y="438.7" font-size="20" stroke="#000" stroke-width="0.25">10<tspan dy="-9.9" dx="-0.2" font-size="16.2">3</tspan></text>
<text x="1885.3" y="438.7" font-size="20" stroke="#000" stroke-width="0.25">10<tspan dy="-9.9" dx="-0.2" font-size="16.2">4</tspan></text>
<text x="1991.7" y="438.7" font-size="20" stroke="#000" stroke-width="0.25">10<tspan dy="-9.9" dx="-0.2" font-size="16.2">5</tspan></text>
<text x="1700.3" y="438.7" font-size="20" stroke="#000" stroke-width="0.25" text-anchor="middle">0</text>
</g>
<g id="p10">
<text x="354.4" y="472.7" font-size="25" text-anchor="middle" stroke="#000" stroke-width="0.45">BNZR2.01R</text>
<clipPath id="cp10"><rect x="87.7" y="481.3" width="599.5" height="177.8"/></clipPath>
<g clip-path="url(#cp10)">
<path d="M87.2,658.1L87.2,652.5L90.3,655L95,656.6L107.6,657.5L163.9,657.2L210.8,656.6L235.9,656.2L240,656.5L255.6,655L271.3,654.2L283.8,653.1L294.8,653.4L307.3,651.8L321.4,649.9L330.8,649.9L340.1,649.5L346.4,647.1L352.7,644L360.5,641.2L368.3,641.7L374.6,639.3L380.8,634.6L387.1,629.9L391.8,626.8L396.5,620.5L402.7,614.3L409,608.8L413.7,603.3L418.4,595.5L423.1,586.1L427.8,575.1L432.5,564.2L437.2,556.4L441.9,548.5L445,540.7L447.3,531.3L449.7,521.9L452.8,515.7L456.7,512.6L462.2,511L465.3,504.7L467.7,496.9L470,494.1L472.4,494.6L474.7,496.1L477.8,494.9L481.8,494.9L484.1,500L486.5,506.3L488.8,514.1L491.9,523.5L495.1,532.9L498.2,542.3L501.3,554.8L504.4,568.9L507.6,581.4L510.7,593.9L514.6,608L518.5,619L523.2,631.5L527.9,642.4L532.6,648.7L537.3,652.6L543.6,655.7L551.4,657.3L560,657.9L560,658.1Z" fill="rgba(178,253,90,0.43)"/>
<path d="M87.2,652.5L90.3,655L95,656.6L107.6,657.5L163.9,657.2L210.8,656.6L235.9,656.2L240,656.5L255.6,655L271.3,654.2L283.8,653.1L294.8,653.4L307.3,651.8L321.4,649.9L330.8,649.9L340.1,649.5L346.4,647.1L352.7,644L360.5,641.2L368.3,641.7L374.6,639.3L380.8,634.6L387.1,629.9L391.8,626.8L396.5,620.5L402.7,614.3L409,608.8L413.7,603.3L418.4,595.5L423.1,586.1L427.8,575.1L432.5,564.2L437.2,556.4L441.9,548.5L445,540.7L447.3,531.3L449.7,521.9L452.8,515.7L456.7,512.6L462.2,511L465.3,504.7L467.7,496.9L470,494.1L472.4,494.6L474.7,496.1L477.8,494.9L481.8,494.9L484.1,500L486.5,506.3L488.8,514.1L491.9,523.5L495.1,532.9L498.2,542.3L501.3,554.8L504.4,568.9L507.6,581.4L510.7,593.9L514.6,608L518.5,619L523.2,631.5L527.9,642.4L532.6,648.7L537.3,652.6L543.6,655.7L551.4,657.3L560,657.9" fill="none" stroke="#b1e56e" stroke-width="1.6" stroke-linejoin="round"/>
<path d="M195.2,658.1L195.2,657.8L217.1,657.2L229.6,656.2L237.4,655.1L240,655L249.4,653.4L258.8,652.6L271.3,649L283.8,646.3L296.3,640.9L307.3,633L318.2,626L326.1,619L333.9,612.7L338.6,604.9L343.3,597.1L348,591.6L351.1,590L354.2,583L358.9,575.1L363.6,567.3L368.3,557.9L373,548.5L377.7,539.2L382.4,529.8L386.3,521.9L388.7,518.8L391.8,508.6L394.1,506.3L396.5,505.5L399.6,500.8L402,496.1L404.3,493.5L406.7,497.7L409,498.5L412.1,500.8L415.3,503.2L417.6,500L420,499.3L422.3,503.9L425.4,508.6L427.8,508.6L430.1,512.6L433.3,517.2L436.4,521.9L439.5,525.9L441.9,528.2L445,536L448.1,543.9L452.8,556.4L457.5,568.9L462.2,581.4L466.9,592.4L471.6,603.3L476.3,611.1L481,620.5L485.7,629.9L490.4,637.7L496.6,646.3L502.9,652.6L509.1,656.5L515.4,657.9L515.4,658.1Z" fill="rgba(22,220,250,0.43)"/>
<path d="M195.2,657.8L217.1,657.2L229.6,656.2L237.4,655.1L240,655L249.4,653.4L258.8,652.6L271.3,649L283.8,646.3L296.3,640.9L307.3,633L318.2,626L326.1,619L333.9,612.7L338.6,604.9L343.3,597.1L348,591.6L351.1,590L354.2,583L358.9,575.1L363.6,567.3L368.3,557.9L373,548.5L377.7,539.2L382.4,529.8L386.3,521.9L388.7,518.8L391.8,508.6L394.1,506.3L396.5,505.5L399.6,500.8L402,496.1L404.3,493.5L406.7,497.7L409,498.5L412.1,500.8L415.3,503.2L417.6,500L420,499.3L422.3,503.9L425.4,508.6L427.8,508.6L430.1,512.6L433.3,517.2L436.4,521.9L439.5,525.9L441.9,528.2L445,536L448.1,543.9L452.8,556.4L457.5,568.9L462.2,581.4L466.9,592.4L471.6,603.3L476.3,611.1L481,620.5L485.7,629.9L490.4,637.7L496.6,646.3L502.9,652.6L509.1,656.5L515.4,657.9" fill="none" stroke="#2fb0d4" stroke-width="1.75" stroke-linejoin="round"/>
</g>
<rect x="87.7" y="481.3" width="599.5" height="176.8" fill="none" stroke="#000" stroke-width="1.8"/>
<path d="M80.7,481.3h7M71.5,657.3h16.2M80.7,649.1h7M80.7,640.9h7M80.7,632.7h7M71.5,624.5h16.2M80.7,615.7h7M80.7,607h7M80.7,598.2h7M71.5,589.4h16.2M80.7,581.2h7M80.7,572.9h7M80.7,564.7h7M71.5,556.5h16.2M80.7,548.3h7M80.7,540h7M80.7,531.8h7M71.5,523.6h16.2M80.7,515.4h7M80.7,507.1h7M80.7,498.9h7M71.5,490.7h16.2" stroke="#000" stroke-width="1.5" fill="none"/>
<text x="70" y="531.6" font-size="20.6" stroke="#000" stroke-width="0.25" text-anchor="end">80</text>
<text x="70" y="597.1" font-size="20.6" stroke="#000" stroke-width="0.25" text-anchor="end">40</text>
<text x="70" y="663.4" font-size="20.6" stroke="#000" stroke-width="0.25" text-anchor="end">0</text>
<path d="M221.1,658.1v8M220,658.1v8M218.9,658.1v8M217.8,658.1v8M223.4,658.1v8M224.5,658.1v8M225.7,658.1v8M226.9,658.1v8M229.2,658.1v8M230.4,658.1v8M231.6,658.1v8M232.7,658.1v8" stroke="#000" stroke-width="0.95" fill="none"/>
<path d="M124.8,658.1v18M131.3,658.1v8M138.4,658.1v8M147.8,658.1v8M157.2,658.1v8M166.6,658.1v13M178.4,658.1v8M187.8,658.1v8M199.5,658.1v8M211.3,658.1v18M234.4,658.1v18M243.8,658.1v8M255.9,658.1v8M266.8,658.1v8M276.7,658.1v13M286.2,658.1v8M295.9,658.1v8M305.3,658.1v8M312.6,658.1v8M321.7,658.1v18M373,658.1v8M403.5,658.1v8M424.6,658.1v8M440.7,658.1v13M452.3,658.1v8M461.7,658.1v8M471.5,658.1v8M480.7,658.1v8M485,658.1v18M529.6,658.1v8M555.4,658.1v8M571.8,658.1v8M585.7,658.1v13M597.7,658.1v8M604.8,658.1v8M614.2,658.1v8M621.2,658.1v8M627.9,658.1v18M668.2,658.1v8M216.1,658.1v13M213.8,658.1v8M228.1,658.1v13" stroke="#000" stroke-width="1.5" fill="none"/>
<path d="M222.2,658.1v18" stroke="#000" stroke-width="3.5" fill="none"/>
<path d="M88.7,656.8H686.2" stroke="#7fe3f7" stroke-width="1" opacity="0.45" fill="none"/>
<text x="110.4" y="696.2" font-size="20.6" stroke="#000" stroke-width="0.25" text-anchor="end">-</text>
<text x="109.9" y="696.2" font-size="20.6" stroke="#000" stroke-width="0.25">10<tspan dy="-10" dx="0.2">3</tspan></text>
<text x="306.6" y="696.2" font-size="20.6" stroke="#000" stroke-width="0.25">10<tspan dy="-10" dx="0.2">3</tspan></text>
<text x="469.7" y="696.2" font-size="20.6" stroke="#000" stroke-width="0.25">10<tspan dy="-10" dx="0.2">4</tspan></text>
<text x="612.5" y="696.2" font-size="20.6" stroke="#000" stroke-width="0.25">10<tspan dy="-10" dx="0.2">5</tspan></text>
<text x="222.4" y="696.2" font-size="20.6" stroke="#000" stroke-width="0.25" text-anchor="middle">0</text>
</g>
<g id="p11">
<text x="1042.3" y="472.7" font-size="25" text-anchor="middle" stroke="#000" stroke-width="0.45">BNZR2.02R</text>
<clipPath id="cp11"><rect x="765" y="481" width="599.7" height="178.1"/></clipPath>
<g clip-path="url(#cp11)">
<path d="M765.5,658.1L765.5,656.5L783.5,656.2L794.4,653.4L806.9,649.5L817.9,647.1L827.3,644.5L833.5,644.3L838.2,645.2L844.5,643.2L849.2,642.1L853.9,642.7L860.1,644.8L863.3,645.9L869.5,644.8L875.8,643.2L885.2,643.2L893,644.8L899.3,645.2L905.5,644L910.2,643.2L916.5,644.3L922.7,644.3L929,644.8L935.3,643.7L943.1,642.1L950.9,640.9L957.2,640.9L963.4,641.7L969.7,640.9L975.9,638.5L985.3,636.2L994.7,633.8L1004.1,631.5L1013.5,627.6L1022.9,624.4L1027.6,621.3L1032.3,619.3L1037,620.2L1040,622.1L1046.3,615.8L1052.5,608L1058.8,601.7L1065,597.1L1071.3,593.9L1076,591.6L1080.7,584.5L1085.4,578.3L1090.1,572L1094.8,566.5L1099.5,563.4L1103.4,560.3L1105.7,554.8L1108.9,548.5L1112.8,543.1L1116.7,534.5L1119.8,527.4L1122.9,524.8L1126.1,525.4L1130,526.6L1132.3,523.5L1133.9,517.2L1136.2,507.9L1138.3,502.4L1140.9,505.5L1143.3,508.6L1145.6,505.5L1148,500L1150.3,498.5L1152.7,500L1155.8,502.9L1159.7,503.2L1162.1,509.4L1164.4,517.2L1166.7,525.1L1169.1,529L1172.2,534.5L1174.6,542.3L1176.9,553.2L1179.3,564.2L1181.6,573.6L1184,581.4L1187.1,592.4L1189.4,601.7L1191.8,611.1L1194.1,620.5L1197.3,629.9L1200.4,637.7L1204.3,644.8L1209,650.3L1213.7,654.2L1220,656.5L1227.8,657.9L1227.8,658.1Z" fill="rgba(178,253,90,0.43)"/>
<path d="M765.5,656.5L783.5,656.2L794.4,653.4L806.9,649.5L817.9,647.1L827.3,644.5L833.5,644.3L838.2,645.2L844.5,643.2L849.2,642.1L853.9,642.7L860.1,644.8L863.3,645.9L869.5,644.8L875.8,643.2L885.2,643.2L893,644.8L899.3,645.2L905.5,644L910.2,643.2L916.5,644.3L922.7,644.3L929,644.8L935.3,643.7L943.1,642.1L950.9,640.9L957.2,640.9L963.4,641.7L969.7,640.9L975.9,638.5L985.3,636.2L994.7,633.8L1004.1,631.5L1013.5,627.6L1022.9,624.4L1027.6,621.3L1032.3,619.3L1037,620.2L1040,622.1L1046.3,615.8L1052.5,608L1058.8,601.7L1065,597.1L1071.3,593.9L1076,591.6L1080.7,584.5L1085.4,578.3L1090.1,572L1094.8,566.5L1099.5,563.4L1103.4,560.3L1105.7,554.8L1108.9,548.5L1112.8,543.1L1116.7,534.5L1119.8,527.4L1122.9,524.8L1126.1,525.4L1130,526.6L1132.3,523.5L1133.9,517.2L1136.2,507.9L1138.3,502.4L1140.9,505.5L1143.3,508.6L1145.6,505.5L1148,500L1150.3,498.5L1152.7,500L1155.8,502.9L1159.7,503.2L1162.1,509.4L1164.4,517.2L1166.7,525.1L1169.1,529L1172.2,534.5L1174.6,542.3L1176.9,553.2L1179.3,564.2L1181.6,573.6L1184,581.4L1187.1,592.4L1189.4,601.7L1191.8,611.1L1194.1,620.5L1197.3,629.9L1200.4,637.7L1204.3,644.8L1209,650.3L1213.7,654.2L1220,656.5L1227.8,657.9" fill="none" stroke="#b1e56e" stroke-width="1.6" stroke-linejoin="round"/>
<path d="M853.9,658.1L853.9,657.9L861.7,656.5L868,651.8L871.9,642.4L875,631.5L878.1,615.8L881.3,600.2L883.6,587.7L886,576.7L889.1,562.6L892.2,551.7L894.6,542.3L897.7,536.8L900.8,532.1L904,529.8L907.9,530.1L911.8,529L916.5,527.4L920.4,523.8L924.3,522.7L928.2,521.2L932.1,518.8L936,524.3L940.7,521.2L943.9,522.7L947.8,520.1L950.9,523.5L954,527.4L957.2,524.3L960.3,520.4L962.6,514.1L965,508.3L968.1,511.8L971.2,511L974.4,508.3L979.1,511.8L981.4,507.1L984.5,504.7L986.9,507.9L988.5,501.6L990.8,496.1L993.2,497.7L995.5,501.6L997.8,505.5L1000.2,501.6L1002.5,498.5L1004.9,505.5L1007.2,506.3L1008.8,498.8L1011.9,499.3L1014.3,500.5L1016.6,500L1019.8,502.4L1022.9,506.3L1026,504.7L1028.4,503.9L1031.5,510.2L1033.8,512.6L1037,512.6L1040,514.9L1046.3,520.4L1049.4,528.2L1052.5,537.6L1057.2,547L1061.9,556.4L1066.6,565L1071.3,572L1074.4,581.4L1079.1,592.4L1083.8,603.3L1088.5,614.3L1093.2,623.7L1097.9,631.5L1102.6,637.7L1108.9,644.8L1115.1,649.5L1122.9,654.2L1130.8,656.5L1140.1,657.9L1140.1,658.1Z" fill="rgba(22,220,250,0.43)"/>
<path d="M853.9,657.9L861.7,656.5L868,651.8L871.9,642.4L875,631.5L878.1,615.8L881.3,600.2L883.6,587.7L886,576.7L889.1,562.6L892.2,551.7L894.6,542.3L897.7,536.8L900.8,532.1L904,529.8L907.9,530.1L911.8,529L916.5,527.4L920.4,523.8L924.3,522.7L928.2,521.2L932.1,518.8L936,524.3L940.7,521.2L943.9,522.7L947.8,520.1L950.9,523.5L954,527.4L957.2,524.3L960.3,520.4L962.6,514.1L965,508.3L968.1,511.8L971.2,511L974.4,508.3L979.1,511.8L981.4,507.1L984.5,504.7L986.9,507.9L988.5,501.6L990.8,496.1L993.2,497.7L995.5,501.6L997.8,505.5L1000.2,501.6L1002.5,498.5L1004.9,505.5L1007.2,506.3L1008.8,498.8L1011.9,499.3L1014.3,500.5L1016.6,500L1019.8,502.4L1022.9,506.3L1026,504.7L1028.4,503.9L1031.5,510.2L1033.8,512.6L1037,512.6L1040,514.9L1046.3,520.4L1049.4,528.2L1052.5,537.6L1057.2,547L1061.9,556.4L1066.6,565L1071.3,572L1074.4,581.4L1079.1,592.4L1083.8,603.3L1088.5,614.3L1093.2,623.7L1097.9,631.5L1102.6,637.7L1108.9,644.8L1115.1,649.5L1122.9,654.2L1130.8,656.5L1140.1,657.9" fill="none" stroke="#2fb0d4" stroke-width="1.75" stroke-linejoin="round"/>
</g>
<rect x="765" y="481" width="599.7" height="177.1" fill="none" stroke="#000" stroke-width="1.8"/>
<path d="M758,481h7M748.8,657.3h16.2M758,649.1h7M758,640.9h7M758,632.7h7M748.8,624.5h16.2M758,615.7h7M758,607h7M758,598.2h7M748.8,589.4h16.2M758,581.2h7M758,572.9h7M758,564.7h7M748.8,556.5h16.2M758,548.3h7M758,540h7M758,531.8h7M748.8,523.6h16.2M758,515.4h7M758,507.1h7M758,498.9h7M748.8,490.7h16.2" stroke="#000" stroke-width="1.5" fill="none"/>
<text x="741.9" y="531.6" font-size="20.6" stroke="#000" stroke-width="0.25" text-anchor="end">80</text>
<text x="741.9" y="597.1" font-size="20.6" stroke="#000" stroke-width="0.25" text-anchor="end">40</text>
<text x="741.9" y="663.4" font-size="20.6" stroke="#000" stroke-width="0.25" text-anchor="end">0</text>
<path d="M898.5,658.1v8M897.4,658.1v8M896.3,658.1v8M895.2,658.1v8M900.7,658.1v8M901.9,658.1v8M903.1,658.1v8M904.2,658.1v8M906.6,658.1v8M907.8,658.1v8M908.9,658.1v8M910.1,658.1v8" stroke="#000" stroke-width="0.95" fill="none"/>
<path d="M802,658.1v18M808.5,658.1v8M815.6,658.1v8M825.1,658.1v8M834.5,658.1v8M843.9,658.1v13M855.6,658.1v8M865.1,658.1v8M876.8,658.1v8M888.6,658.1v18M911.8,658.1v18M921.2,658.1v8M933.3,658.1v8M944.3,658.1v8M954.2,658.1v13M963.6,658.1v8M973.3,658.1v8M982.8,658.1v8M990.1,658.1v8M999.2,658.1v18M1050.6,658.1v8M1081.1,658.1v8M1102.3,658.1v8M1118.4,658.1v13M1130,658.1v8M1139.5,658.1v8M1149.3,658.1v8M1158.4,658.1v8M1162.7,658.1v18M1207.4,658.1v8M1233.3,658.1v8M1249.8,658.1v8M1263.6,658.1v13M1275.6,658.1v8M1282.7,658.1v8M1292.2,658.1v8M1299.2,658.1v8M1305.9,658.1v18M1346.3,658.1v8M893.4,658.1v13M891.1,658.1v8M905.4,658.1v13" stroke="#000" stroke-width="1.5" fill="none"/>
<path d="M899.6,658.1v18" stroke="#000" stroke-width="3.5" fill="none"/>
<path d="M766,656.8H1363.7" stroke="#7fe3f7" stroke-width="1" opacity="0.45" fill="none"/>
<text x="786.7" y="696.2" font-size="20.6" stroke="#000" stroke-width="0.25" text-anchor="end">-</text>
<text x="786.2" y="696.2" font-size="20.6" stroke="#000" stroke-width="0.25">10<tspan dy="-10" dx="0.2">3</tspan></text>
<text x="982.9" y="696.2" font-size="20.6" stroke="#000" stroke-width="0.25">10<tspan dy="-10" dx="0.2">3</tspan></text>
<text x="1146" y="696.2" font-size="20.6" stroke="#000" stroke-width="0.25">10<tspan dy="-10" dx="0.2">4</tspan></text>
<text x="1288.8" y="696.2" font-size="20.6" stroke="#000" stroke-width="0.25">10<tspan dy="-10" dx="0.2">5</tspan></text>
<text x="898.7" y="696.2" font-size="20.6" stroke="#000" stroke-width="0.25" text-anchor="middle">0</text>
</g>
<g id="p12">
<text x="1757.6" y="472.7" font-size="25" text-anchor="middle" stroke="#000" stroke-width="0.45">BNZR2.04R</text>
<clipPath id="cp12"><rect x="1441.4" y="480.8" width="600.5" height="178.3"/></clipPath>
<g clip-path="url(#cp12)">
<path d="M1599,658.1L1599,658.1L1639.7,655L1671,650.3L1689.8,644L1702.3,639.3L1713.3,633.1L1721.1,625.3L1728.9,615.9L1736.7,604.9L1744.6,589.3L1750.8,572.1L1757.1,553.3L1763.3,536.1L1769.6,520.4L1775.9,506.3L1780.6,498.5L1785.2,495.4L1787.4,491.3L1791.5,493.8L1796.2,498.5L1800.9,506.3L1805.6,518.9L1810.3,529.8L1813.4,543.9L1818.1,562.7L1822.8,578.3L1827.5,597.1L1832.2,615.9L1838.4,634.6L1844.7,647.2L1852.5,655L1861.9,658.1L1861.9,658.1Z" fill="rgba(178,253,90,0.43)"/>
<path d="M1599,658.1L1639.7,655L1671,650.3L1689.8,644L1702.3,639.3L1713.3,633.1L1721.1,625.3L1728.9,615.9L1736.7,604.9L1744.6,589.3L1750.8,572.1L1757.1,553.3L1763.3,536.1L1769.6,520.4L1775.9,506.3L1780.6,498.5L1785.2,495.4L1787.4,491.3L1791.5,493.8L1796.2,498.5L1800.9,506.3L1805.6,518.9L1810.3,529.8L1813.4,543.9L1818.1,562.7L1822.8,578.3L1827.5,597.1L1832.2,615.9L1838.4,634.6L1844.7,647.2L1852.5,655L1861.9,658.1" fill="none" stroke="#b1e56e" stroke-width="1.6" stroke-linejoin="round"/>
<path d="M1552.1,658.1L1552.1,658.1L1558.3,651.9L1563,645.6L1567.7,640.9L1572.4,639.3L1577.1,640L1581.8,637.8L1588.1,633.1L1594.3,623.7L1600.6,606.5L1606.9,587.7L1611.6,568.9L1616.2,547L1620.9,528.2L1625.6,511L1630.3,501.6L1633.5,500.1L1636.6,501L1639.1,499.4L1642.2,506.3L1646,503.8L1649.1,509.5L1653.8,515.7L1658.5,520.4L1663.2,532.9L1667.9,543.9L1672.6,558L1677.3,573.6L1683.5,584.6L1688.2,597.1L1694.5,608L1700.7,617.4L1707,623.7L1713.3,634.6L1721.1,642.5L1730.5,648.7L1743,653.4L1758.6,656.6L1780.6,658.1L1780.6,658.1Z" fill="rgba(22,220,250,0.43)"/>
<path d="M1552.1,658.1L1558.3,651.9L1563,645.6L1567.7,640.9L1572.4,639.3L1577.1,640L1581.8,637.8L1588.1,633.1L1594.3,623.7L1600.6,606.5L1606.9,587.7L1611.6,568.9L1616.2,547L1620.9,528.2L1625.6,511L1630.3,501.6L1633.5,500.1L1636.6,501L1639.1,499.4L1642.2,506.3L1646,503.8L1649.1,509.5L1653.8,515.7L1658.5,520.4L1663.2,532.9L1667.9,543.9L1672.6,558L1677.3,573.6L1683.5,584.6L1688.2,597.1L1694.5,608L1700.7,617.4L1707,623.7L1713.3,634.6L1721.1,642.5L1730.5,648.7L1743,653.4L1758.6,656.6L1780.6,658.1" fill="none" stroke="#2fb0d4" stroke-width="1.75" stroke-linejoin="round"/>
</g>
<rect x="1441.4" y="480.8" width="600.5" height="177.3" fill="none" stroke="#000" stroke-width="1.8"/>
<path d="M1434.4,480.8h7M1425.2,657.3h16.2M1434.4,649.1h7M1434.4,640.9h7M1434.4,632.7h7M1425.2,624.5h16.2M1434.4,615.7h7M1434.4,607h7M1434.4,598.2h7M1425.2,589.4h16.2M1434.4,581.2h7M1434.4,572.9h7M1434.4,564.7h7M1425.2,556.5h16.2M1434.4,548.3h7M1434.4,540h7M1434.4,531.8h7M1425.2,523.6h16.2M1434.4,515.4h7M1434.4,507.1h7M1434.4,498.9h7M1425.2,490.7h16.2" stroke="#000" stroke-width="1.5" fill="none"/>
<text x="1420" y="531.6" font-size="20.6" stroke="#000" stroke-width="0.25" text-anchor="end">80</text>
<text x="1420" y="597.1" font-size="20.6" stroke="#000" stroke-width="0.25" text-anchor="end">40</text>
<text x="1420" y="663.4" font-size="20.6" stroke="#000" stroke-width="0.25" text-anchor="end">0</text>
<path d="M1576.6,658.1v8M1575.5,658.1v8M1574.4,658.1v8M1573.3,658.1v8M1578.8,658.1v8M1580,658.1v8M1581.2,658.1v8M1582.3,658.1v8M1584.7,658.1v8M1585.9,658.1v8M1587,658.1v8M1588.2,658.1v8" stroke="#000" stroke-width="0.95" fill="none"/>
<path d="M1480.1,658.1v18M1486.6,658.1v8M1493.7,658.1v8M1503.2,658.1v8M1512.6,658.1v8M1522,658.1v13M1533.7,658.1v8M1543.2,658.1v8M1554.9,658.1v8M1566.7,658.1v18M1589.9,658.1v18M1599.3,658.1v8M1611.4,658.1v8M1622.4,658.1v8M1632.3,658.1v13M1641.7,658.1v8M1651.4,658.1v8M1660.9,658.1v8M1668.2,658.1v8M1677.3,658.1v18M1728.7,658.1v8M1759.2,658.1v8M1780.4,658.1v8M1796.5,658.1v13M1808.1,658.1v8M1817.6,658.1v8M1827.4,658.1v8M1836.5,658.1v8M1840.8,658.1v18M1885.5,658.1v8M1911.4,658.1v8M1927.9,658.1v8M1941.7,658.1v13M1953.7,658.1v8M1960.8,658.1v8M1970.3,658.1v8M1977.3,658.1v8M1984,658.1v18M2024.4,658.1v8M1571.5,658.1v13M1569.2,658.1v8M1583.5,658.1v13" stroke="#000" stroke-width="1.5" fill="none"/>
<path d="M1577.7,658.1v18" stroke="#000" stroke-width="3.5" fill="none"/>
<path d="M1441.4,657.9H2041.9" stroke="#2fb0d4" stroke-width="1.4" opacity="0.55" fill="none"/>
<path d="M1442.4,656.8H2040.9" stroke="#7fe3f7" stroke-width="1" opacity="0.45" fill="none"/>
<text x="1465.5" y="696.2" font-size="20.6" stroke="#000" stroke-width="0.25" text-anchor="end">-</text>
<text x="1465" y="696.2" font-size="20.6" stroke="#000" stroke-width="0.25">10<tspan dy="-10" dx="0.2">3</tspan></text>
<text x="1661.7" y="696.2" font-size="20.6" stroke="#000" stroke-width="0.25">10<tspan dy="-10" dx="0.2">3</tspan></text>
<text x="1824.8" y="696.2" font-size="20.6" stroke="#000" stroke-width="0.25">10<tspan dy="-10" dx="0.2">4</tspan></text>
<text x="1967.6" y="696.2" font-size="20.6" stroke="#000" stroke-width="0.25">10<tspan dy="-10" dx="0.2">5</tspan></text>
<text x="1577.5" y="696.2" font-size="20.6" stroke="#000" stroke-width="0.25" text-anchor="middle">0</text>
</g>
<g id="p13">
<text x="354.7" y="726.7" font-size="25" text-anchor="middle" stroke="#000" stroke-width="0.45">BNZR2.05R</text>
<clipPath id="cp13"><rect x="87.6" y="739" width="600.6" height="178.3"/></clipPath>
<g clip-path="url(#cp13)">
<path d="M342.3,916.3L342.3,916.3L370.4,914.4L389.2,911.2L404.9,906.6L414.3,900.3L423.6,895.6L431.5,889.3L439.3,878.4L445.6,862.7L451.8,844L458.1,825.2L462.8,806.4L467.5,787.6L472.2,775.1L476.8,764.2L481.5,754.8L484.7,751.6L487.8,753.8L490.9,751.6L494.1,750.1L497.2,751.6L501.9,759.5L505,772L508.1,784.5L511.3,800.1L514.4,815.8L519.1,837.7L523.8,859.6L528.5,878.4L533.2,892.5L539.4,905L545.7,911.2L553.5,915.3L561.3,916.3L561.3,916.3Z" fill="rgba(178,253,90,0.43)"/>
<path d="M342.3,916.3L370.4,914.4L389.2,911.2L404.9,906.6L414.3,900.3L423.6,895.6L431.5,889.3L439.3,878.4L445.6,862.7L451.8,844L458.1,825.2L462.8,806.4L467.5,787.6L472.2,775.1L476.8,764.2L481.5,754.8L484.7,751.6L487.8,753.8L490.9,751.6L494.1,750.1L497.2,751.6L501.9,759.5L505,772L508.1,784.5L511.3,800.1L514.4,815.8L519.1,837.7L523.8,859.6L528.5,878.4L533.2,892.5L539.4,905L545.7,911.2L553.5,915.3L561.3,916.3" fill="none" stroke="#b1e56e" stroke-width="1.6" stroke-linejoin="round"/>
<path d="M163.9,916.3L163.9,916.3L210.8,915.3L242.1,913.8L264,911.2L282.8,908.1L295.3,905L304.7,900.3L312.5,894L320.4,884.6L328.2,873.7L336,861.2L342.3,848.7L348.5,834.6L353.2,815.8L356.4,811.1L359.5,806.4L364.2,790.8L368.9,781.4L375.1,775.1L381.4,767.3L387.7,761L391.7,753.2L393.9,750.1L397,755.7L401.7,758.8L406.4,762.6L411.1,772L415.8,779.8L420.5,792.3L425.2,804.8L429.9,820.5L434.6,834.6L440.9,847.1L447.1,862.7L453.4,875.3L459.6,886.2L467.5,897.2L475.3,905L483.1,911.2L492.5,915.3L501.9,916.3L501.9,916.3Z" fill="rgba(22,220,250,0.43)"/>
<path d="M163.9,916.3L210.8,915.3L242.1,913.8L264,911.2L282.8,908.1L295.3,905L304.7,900.3L312.5,894L320.4,884.6L328.2,873.7L336,861.2L342.3,848.7L348.5,834.6L353.2,815.8L356.4,811.1L359.5,806.4L364.2,790.8L368.9,781.4L375.1,775.1L381.4,767.3L387.7,761L391.7,753.2L393.9,750.1L397,755.7L401.7,758.8L406.4,762.6L411.1,772L415.8,779.8L420.5,792.3L425.2,804.8L429.9,820.5L434.6,834.6L440.9,847.1L447.1,862.7L453.4,875.3L459.6,886.2L467.5,897.2L475.3,905L483.1,911.2L492.5,915.3L501.9,916.3" fill="none" stroke="#2fb0d4" stroke-width="1.75" stroke-linejoin="round"/>
</g>
<rect x="87.6" y="739" width="600.6" height="177.3" fill="none" stroke="#000" stroke-width="1.8"/>
<path d="M80.6,739h7M71.4,915.3h16.2M80.6,907.1h7M80.6,898.9h7M80.6,890.7h7M71.4,882.5h16.2M80.6,873.7h7M80.6,865h7M80.6,856.2h7M71.4,847.4h16.2M80.6,839.2h7M80.6,830.9h7M80.6,822.7h7M71.4,814.5h16.2M80.6,806.3h7M80.6,798h7M80.6,789.8h7M71.4,781.6h16.2M80.6,773.4h7M80.6,765.1h7M80.6,756.9h7M71.4,748.7h16.2" stroke="#000" stroke-width="1.5" fill="none"/>
<text x="70" y="790.9" font-size="20.6" stroke="#000" stroke-width="0.25" text-anchor="end">80</text>
<text x="70" y="856.4" font-size="20.6" stroke="#000" stroke-width="0.25" text-anchor="end">40</text>
<text x="70" y="922" font-size="20.6" stroke="#000" stroke-width="0.25" text-anchor="end">0</text>
<path d="M222.3,916.3v8M221.2,916.3v8M220.1,916.3v8M219,916.3v8M224.6,916.3v8M225.7,916.3v8M226.9,916.3v8M228.1,916.3v8M230.4,916.3v8M231.6,916.3v8M232.8,916.3v8M234,916.3v8" stroke="#000" stroke-width="0.95" fill="none"/>
<path d="M125.7,916.3v18M132.2,916.3v8M139.4,916.3v8M148.8,916.3v8M158.2,916.3v8M167.7,916.3v13M179.4,916.3v8M188.9,916.3v8M200.6,916.3v8M212.4,916.3v18M235.6,916.3v18M245.1,916.3v8M257.2,916.3v8M268.2,916.3v8M278.1,916.3v13M287.5,916.3v8M297.3,916.3v8M306.7,916.3v8M314.1,916.3v8M323.2,916.3v18M374.7,916.3v8M405.2,916.3v8M426.4,916.3v8M442.6,916.3v13M454.2,916.3v8M463.6,916.3v8M473.5,916.3v8M482.6,916.3v8M486.9,916.3v18M531.7,916.3v8M557.6,916.3v8M574.1,916.3v8M587.9,916.3v13M600,916.3v8M607.1,916.3v8M616.6,916.3v8M623.6,916.3v8M630.3,916.3v18M670.8,916.3v8M217.3,916.3v13M215,916.3v8M229.3,916.3v13" stroke="#000" stroke-width="1.5" fill="none"/>
<path d="M223.4,916.3v18" stroke="#000" stroke-width="3.5" fill="none"/>
<path d="M88.6,915H687.2" stroke="#7fe3f7" stroke-width="1" opacity="0.45" fill="none"/>
<text x="110.4" y="955.7" font-size="20.6" stroke="#000" stroke-width="0.25" text-anchor="end">-</text>
<text x="109.9" y="955.7" font-size="20.6" stroke="#000" stroke-width="0.25">10<tspan dy="-11.1" dx="0.2">3</tspan></text>
<text x="306.6" y="955.7" font-size="20.6" stroke="#000" stroke-width="0.25">10<tspan dy="-11.1" dx="0.2">3</tspan></text>
<text x="469.7" y="955.7" font-size="20.6" stroke="#000" stroke-width="0.25">10<tspan dy="-11.1" dx="0.2">4</tspan></text>
<text x="612.5" y="955.7" font-size="20.6" stroke="#000" stroke-width="0.25">10<tspan dy="-11.1" dx="0.2">5</tspan></text>
<text x="222.4" y="955.7" font-size="20.6" stroke="#000" stroke-width="0.25" text-anchor="middle">0</text>
</g>
<g id="p14">
<text x="1042.3" y="726.7" font-size="25" text-anchor="middle" stroke="#000" stroke-width="0.45">BNZR2.07R</text>
<clipPath id="cp14"><rect x="762.1" y="739" width="601.1" height="178.3"/></clipPath>
<g clip-path="url(#cp14)">
<path d="M848.3,916.3L848.3,916.3L860.8,909.7L873.3,897.2L882.7,881.5L890.5,862.7L896.8,847.1L903,834.6L909.3,828.3L915.6,820.5L920.3,806.4L926.5,795.5L932.8,790.8L939,782.9L945.3,778.2L950,770.4L954.7,764.2L960.9,762.6L965.6,756.3L970.3,753.8L975,754.8L978.2,750.1L981.3,756.3L984.4,759.5L989.1,757.9L993.8,756.3L998.5,757.9L1001.6,757.9L1006.3,762.6L1011,770.4L1015.7,773.5L1018.8,775.1L1022,782.9L1026.7,790.8L1031.4,795.5L1036.1,806.4L1040.7,815.8L1045.4,823.6L1050.1,834.6L1054.8,844L1061.1,859.6L1067.3,873.7L1073.6,886.2L1081.4,897.2L1089.3,905L1098.6,911.2L1108,915L1117.4,916.3L1117.4,916.3Z" fill="rgba(178,253,90,0.43)"/>
<path d="M848.3,916.3L860.8,909.7L873.3,897.2L882.7,881.5L890.5,862.7L896.8,847.1L903,834.6L909.3,828.3L915.6,820.5L920.3,806.4L926.5,795.5L932.8,790.8L939,782.9L945.3,778.2L950,770.4L954.7,764.2L960.9,762.6L965.6,756.3L970.3,753.8L975,754.8L978.2,750.1L981.3,756.3L984.4,759.5L989.1,757.9L993.8,756.3L998.5,757.9L1001.6,757.9L1006.3,762.6L1011,770.4L1015.7,773.5L1018.8,775.1L1022,782.9L1026.7,790.8L1031.4,795.5L1036.1,806.4L1040.7,815.8L1045.4,823.6L1050.1,834.6L1054.8,844L1061.1,859.6L1067.3,873.7L1073.6,886.2L1081.4,897.2L1089.3,905L1098.6,911.2L1108,915L1117.4,916.3" fill="none" stroke="#b1e56e" stroke-width="1.6" stroke-linejoin="round"/>
<path d="M874.9,916.3L874.9,916.3L882.7,909.7L887.4,903.4L892.1,900.3L898.3,895.6L903,887.8L907.7,878.4L912.4,862.7L917.1,844L921.8,825.2L926.5,806.4L931.2,790.8L934.3,775.1L939,764.2L943.7,759.5L948.4,753.2L950.9,749.1L954.1,757.9L957.8,761L962.5,765.7L967.2,764.2L970.3,772L975,784.5L979.7,793.9L984.4,803.3L989.1,809.5L993.8,820.5L998.5,834.6L1003.2,845.5L1009.4,856.5L1015.7,867.4L1022,880L1028.2,890.9L1036.1,900.3L1045.4,908.1L1058,912.8L1070.5,915.9L1083,916.3L1083,916.3Z" fill="rgba(22,220,250,0.43)"/>
<path d="M874.9,916.3L882.7,909.7L887.4,903.4L892.1,900.3L898.3,895.6L903,887.8L907.7,878.4L912.4,862.7L917.1,844L921.8,825.2L926.5,806.4L931.2,790.8L934.3,775.1L939,764.2L943.7,759.5L948.4,753.2L950.9,749.1L954.1,757.9L957.8,761L962.5,765.7L967.2,764.2L970.3,772L975,784.5L979.7,793.9L984.4,803.3L989.1,809.5L993.8,820.5L998.5,834.6L1003.2,845.5L1009.4,856.5L1015.7,867.4L1022,880L1028.2,890.9L1036.1,900.3L1045.4,908.1L1058,912.8L1070.5,915.9L1083,916.3" fill="none" stroke="#2fb0d4" stroke-width="1.75" stroke-linejoin="round"/>
</g>
<rect x="762.1" y="739" width="601.1" height="177.3" fill="none" stroke="#000" stroke-width="1.8"/>
<path d="M755.1,739h7M745.9,915.3h16.2M755.1,907.1h7M755.1,898.9h7M755.1,890.7h7M745.9,882.5h16.2M755.1,873.7h7M755.1,865h7M755.1,856.2h7M745.9,847.4h16.2M755.1,839.2h7M755.1,830.9h7M755.1,822.7h7M745.9,814.5h16.2M755.1,806.3h7M755.1,798h7M755.1,789.8h7M745.9,781.6h16.2M755.1,773.4h7M755.1,765.1h7M755.1,756.9h7M745.9,748.7h16.2" stroke="#000" stroke-width="1.5" fill="none"/>
<text x="741.9" y="790.9" font-size="20.6" stroke="#000" stroke-width="0.25" text-anchor="end">80</text>
<text x="741.9" y="856.4" font-size="20.6" stroke="#000" stroke-width="0.25" text-anchor="end">40</text>
<text x="741.9" y="922" font-size="20.6" stroke="#000" stroke-width="0.25" text-anchor="end">0</text>
<path d="M895.6,916.3v8M894.5,916.3v8M893.4,916.3v8M892.3,916.3v8M897.9,916.3v8M899,916.3v8M900.2,916.3v8M901.4,916.3v8M903.7,916.3v8M904.9,916.3v8M906.1,916.3v8M907.3,916.3v8" stroke="#000" stroke-width="0.95" fill="none"/>
<path d="M798.8,916.3v18M805.4,916.3v8M812.5,916.3v8M822,916.3v8M831.4,916.3v8M840.9,916.3v13M852.6,916.3v8M862.1,916.3v8M873.9,916.3v8M885.7,916.3v18M909,916.3v18M918.4,916.3v8M930.6,916.3v8M941.5,916.3v8M951.5,916.3v13M961,916.3v8M970.7,916.3v8M980.2,916.3v8M987.5,916.3v8M996.7,916.3v18M1048.3,916.3v8M1078.8,916.3v8M1100.1,916.3v8M1116.2,916.3v13M1127.9,916.3v8M1137.4,916.3v8M1147.2,916.3v8M1156.4,916.3v8M1160.7,916.3v18M1205.6,916.3v8M1231.5,916.3v8M1248,916.3v8M1261.9,916.3v13M1274,916.3v8M1281.1,916.3v8M1290.6,916.3v8M1297.6,916.3v8M1304.3,916.3v18M1344.9,916.3v8M890.5,916.3v13M888.2,916.3v8M902.6,916.3v13" stroke="#000" stroke-width="1.5" fill="none"/>
<path d="M896.7,916.3v18" stroke="#000" stroke-width="3.5" fill="none"/>
<path d="M763.1,915H1362.2" stroke="#7fe3f7" stroke-width="1" opacity="0.45" fill="none"/>
<text x="786.7" y="955.7" font-size="20.6" stroke="#000" stroke-width="0.25" text-anchor="end">-</text>
<text x="786.2" y="955.7" font-size="20.6" stroke="#000" stroke-width="0.25">10<tspan dy="-11.1" dx="0.2">3</tspan></text>
<text x="982.9" y="955.7" font-size="20.6" stroke="#000" stroke-width="0.25">10<tspan dy="-11.1" dx="0.2">3</tspan></text>
<text x="1146" y="955.7" font-size="20.6" stroke="#000" stroke-width="0.25">10<tspan dy="-11.1" dx="0.2">4</tspan></text>
<text x="1288.8" y="955.7" font-size="20.6" stroke="#000" stroke-width="0.25">10<tspan dy="-11.1" dx="0.2">5</tspan></text>
<text x="898.7" y="955.7" font-size="20.6" stroke="#000" stroke-width="0.25" text-anchor="middle">0</text>
</g>
<g id="p15">
<text x="1757.6" y="726.7" font-size="25" text-anchor="middle" stroke="#000" stroke-width="0.45">BNZR2.08R</text>
<clipPath id="cp15"><rect x="1441.9" y="739" width="600.9" height="178.2"/></clipPath>
<g clip-path="url(#cp15)">
<path d="M1442.6,916.2L1442.6,915.9L1498.9,915L1536.4,913.4L1552.1,912.2L1567.7,912.8L1580.3,910.3L1592.8,909.1L1605.3,908.1L1620.9,906.6L1633.5,903.4L1646,898.7L1658.5,895.6L1671,890.9L1680.4,886.2L1686.7,881.5L1692.9,873.7L1700.7,865.9L1708.6,858L1716.4,847.1L1722.7,839.3L1728.9,831.4L1735.2,820.5L1741.4,811.1L1747.7,797L1753.9,789.2L1760.2,782.9L1764.9,772L1769.6,764.2L1774.3,756.3L1777.4,752.6L1780.6,756.3L1785.2,759.5L1788.4,764.2L1793.1,758.8L1797.8,761L1802.5,764.2L1805.6,778.2L1808.7,787.6L1813.4,797L1816.5,809.5L1821.2,825.2L1825.9,840.8L1830.6,856.5L1835.3,872.1L1841.6,887.8L1847.8,898.7L1855.7,906.6L1865,912.8L1874.4,915.9L1883.8,916.2L1883.8,916.2Z" fill="rgba(178,253,90,0.43)"/>
<path d="M1442.6,915.9L1498.9,915L1536.4,913.4L1552.1,912.2L1567.7,912.8L1580.3,910.3L1592.8,909.1L1605.3,908.1L1620.9,906.6L1633.5,903.4L1646,898.7L1658.5,895.6L1671,890.9L1680.4,886.2L1686.7,881.5L1692.9,873.7L1700.7,865.9L1708.6,858L1716.4,847.1L1722.7,839.3L1728.9,831.4L1735.2,820.5L1741.4,811.1L1747.7,797L1753.9,789.2L1760.2,782.9L1764.9,772L1769.6,764.2L1774.3,756.3L1777.4,752.6L1780.6,756.3L1785.2,759.5L1788.4,764.2L1793.1,758.8L1797.8,761L1802.5,764.2L1805.6,778.2L1808.7,787.6L1813.4,797L1816.5,809.5L1821.2,825.2L1825.9,840.8L1830.6,856.5L1835.3,872.1L1841.6,887.8L1847.8,898.7L1855.7,906.6L1865,912.8L1874.4,915.9L1883.8,916.2" fill="none" stroke="#b1e56e" stroke-width="1.6" stroke-linejoin="round"/>
<path d="M1566.2,916.2L1566.2,916.2L1570.9,909.7L1574,900.3L1577.1,887.8L1580.3,869L1583.4,847.1L1586.5,822.1L1589.6,800.1L1592.8,781.4L1595.9,765.7L1599,756.3L1602.2,751L1605.3,749.1L1608.4,753.2L1611.6,756.3L1614.7,753.2L1617.8,751.6L1620.9,762.6L1624.1,768.9L1627.2,778.2L1631.9,787.6L1636.6,792.3L1641.3,803.3L1646,811.1L1650.7,820.5L1655.4,828.3L1660.1,840.8L1664.8,850.2L1671,858L1677.3,865.9L1683.5,875.3L1689.8,883.1L1699.2,890.9L1708.6,898.7L1718,903.4L1730.5,909.1L1746.1,912.8L1764.9,915.3L1780.6,916.2L1780.6,916.2Z" fill="rgba(22,220,250,0.43)"/>
<path d="M1566.2,916.2L1570.9,909.7L1574,900.3L1577.1,887.8L1580.3,869L1583.4,847.1L1586.5,822.1L1589.6,800.1L1592.8,781.4L1595.9,765.7L1599,756.3L1602.2,751L1605.3,749.1L1608.4,753.2L1611.6,756.3L1614.7,753.2L1617.8,751.6L1620.9,762.6L1624.1,768.9L1627.2,778.2L1631.9,787.6L1636.6,792.3L1641.3,803.3L1646,811.1L1650.7,820.5L1655.4,828.3L1660.1,840.8L1664.8,850.2L1671,858L1677.3,865.9L1683.5,875.3L1689.8,883.1L1699.2,890.9L1708.6,898.7L1718,903.4L1730.5,909.1L1746.1,912.8L1764.9,915.3L1780.6,916.2" fill="none" stroke="#2fb0d4" stroke-width="1.75" stroke-linejoin="round"/>
</g>
<rect x="1441.9" y="739" width="600.9" height="177.2" fill="none" stroke="#000" stroke-width="1.8"/>
<path d="M1434.9,739h7M1425.7,915.3h16.2M1434.9,907.1h7M1434.9,898.9h7M1434.9,890.7h7M1425.7,882.5h16.2M1434.9,873.7h7M1434.9,865h7M1434.9,856.2h7M1425.7,847.4h16.2M1434.9,839.2h7M1434.9,830.9h7M1434.9,822.7h7M1425.7,814.5h16.2M1434.9,806.3h7M1434.9,798h7M1434.9,789.8h7M1425.7,781.6h16.2M1434.9,773.4h7M1434.9,765.1h7M1434.9,756.9h7M1425.7,748.7h16.2" stroke="#000" stroke-width="1.5" fill="none"/>
<text x="1420" y="790.9" font-size="20.6" stroke="#000" stroke-width="0.25" text-anchor="end">80</text>
<text x="1420" y="856.4" font-size="20.6" stroke="#000" stroke-width="0.25" text-anchor="end">40</text>
<text x="1420" y="922" font-size="20.6" stroke="#000" stroke-width="0.25" text-anchor="end">0</text>
<path d="M1576.6,916.2v8M1575.5,916.2v8M1574.4,916.2v8M1573.3,916.2v8M1578.8,916.2v8M1580,916.2v8M1581.2,916.2v8M1582.3,916.2v8M1584.7,916.2v8M1585.9,916.2v8M1587,916.2v8M1588.2,916.2v8" stroke="#000" stroke-width="0.95" fill="none"/>
<path d="M1480.1,916.2v18M1486.6,916.2v8M1493.7,916.2v8M1503.2,916.2v8M1512.6,916.2v8M1522,916.2v13M1533.7,916.2v8M1543.2,916.2v8M1554.9,916.2v8M1566.7,916.2v18M1589.9,916.2v18M1599.3,916.2v8M1611.4,916.2v8M1622.4,916.2v8M1632.3,916.2v13M1641.7,916.2v8M1651.4,916.2v8M1660.9,916.2v8M1668.2,916.2v8M1677.3,916.2v18M1728.7,916.2v8M1759.2,916.2v8M1780.4,916.2v8M1796.5,916.2v13M1808.1,916.2v8M1817.6,916.2v8M1827.4,916.2v8M1836.5,916.2v8M1840.8,916.2v18M1885.5,916.2v8M1911.4,916.2v8M1927.9,916.2v8M1941.7,916.2v13M1953.7,916.2v8M1960.8,916.2v8M1970.3,916.2v8M1977.3,916.2v8M1984,916.2v18M2024.4,916.2v8M1571.5,916.2v13M1569.2,916.2v8M1583.5,916.2v13" stroke="#000" stroke-width="1.5" fill="none"/>
<path d="M1577.7,916.2v18" stroke="#000" stroke-width="3.5" fill="none"/>
<path d="M1442.9,914.9H2041.8" stroke="#7fe3f7" stroke-width="1" opacity="0.45" fill="none"/>
<text x="1465.5" y="955.7" font-size="20.6" stroke="#000" stroke-width="0.25" text-anchor="end">-</text>
<text x="1465" y="955.7" font-size="20.6" stroke="#000" stroke-width="0.25">10<tspan dy="-11.1" dx="0.2">3</tspan></text>
<text x="1661.7" y="955.7" font-size="20.6" stroke="#000" stroke-width="0.25">10<tspan dy="-11.1" dx="0.2">3</tspan></text>
<text x="1824.8" y="955.7" font-size="20.6" stroke="#000" stroke-width="0.25">10<tspan dy="-11.1" dx="0.2">4</tspan></text>
<text x="1967.6" y="955.7" font-size="20.6" stroke="#000" stroke-width="0.25">10<tspan dy="-11.1" dx="0.2">5</tspan></text>
<text x="1577.5" y="955.7" font-size="20.6" stroke="#000" stroke-width="0.25" text-anchor="middle">0</text>
</g>
<g id="p16">
<text x="354.7" y="997.8" font-size="25" text-anchor="middle" stroke="#000" stroke-width="0.45">BNZR2.10R</text>
<clipPath id="cp16"><rect x="87.6" y="1008.3" width="601.2" height="178.6"/></clipPath>
<g clip-path="url(#cp16)">
<path d="M176.4,1185.9L176.4,1185.9L181.1,1179.7L185.8,1170.3L188.9,1154.6L192.1,1126.5L195.2,1088.9L197.7,1051.4L199.9,1026.3L202.1,1018.5L204.6,1024.8L207.1,1045.1L209.3,1076.4L211.5,1110.8L214,1145.3L217.1,1170.3L221.8,1180.3L232.7,1182.8L257.8,1181.9L289.1,1182.2L320.4,1182.8L351.7,1182.8L383,1182.2L408,1182.2L429.9,1183.8L445.6,1185.3L464.3,1185.9L464.3,1185.9Z" fill="rgba(178,253,90,0.43)"/>
<path d="M176.4,1185.9L181.1,1179.7L185.8,1170.3L188.9,1154.6L192.1,1126.5L195.2,1088.9L197.7,1051.4L199.9,1026.3L202.1,1018.5L204.6,1024.8L207.1,1045.1L209.3,1076.4L211.5,1110.8L214,1145.3L217.1,1170.3L221.8,1180.3L232.7,1182.8L257.8,1181.9L289.1,1182.2L320.4,1182.8L351.7,1182.8L383,1182.2L408,1182.2L429.9,1183.8L445.6,1185.3L464.3,1185.9" fill="none" stroke="#b1e56e" stroke-width="1.6" stroke-linejoin="round"/>
<path d="M211.5,1185.9L211.5,1185.9L214.6,1176.6L216.5,1157.8L218,1126.5L219.6,1085.8L220.8,1042L222.1,1016.9L224,1029.5L225.5,1051.4L227.1,1085.8L228.7,1120.2L230.2,1148.4L232.1,1167.2L235.2,1179.7L240.6,1184.4L257.8,1185.3L304.7,1185.9L304.7,1185.9Z" fill="rgba(22,220,250,0.43)"/>
<path d="M211.5,1185.9L214.6,1176.6L216.5,1157.8L218,1126.5L219.6,1085.8L220.8,1042L222.1,1016.9L224,1029.5L225.5,1051.4L227.1,1085.8L228.7,1120.2L230.2,1148.4L232.1,1167.2L235.2,1179.7L240.6,1184.4L257.8,1185.3L304.7,1185.9" fill="none" stroke="#2fb0d4" stroke-width="1.75" stroke-linejoin="round"/>
</g>
<rect x="87.6" y="1008.3" width="601.2" height="177.6" fill="none" stroke="#000" stroke-width="1.8"/>
<path d="M80.6,1008.3h7M71.4,1184.8h16.2M80.6,1176.6h7M80.6,1168.4h7M80.6,1160.2h7M71.4,1152h16.2M80.6,1143.2h7M80.6,1134.5h7M80.6,1125.7h7M71.4,1116.9h16.2M80.6,1108.7h7M80.6,1100.4h7M80.6,1092.2h7M71.4,1084h16.2M80.6,1075.8h7M80.6,1067.5h7M80.6,1059.3h7M71.4,1051.1h16.2M80.6,1042.9h7M80.6,1034.6h7M80.6,1026.4h7M71.4,1018.2h16.2" stroke="#000" stroke-width="1.5" fill="none"/>
<text x="70" y="1061.8" font-size="20.6" stroke="#000" stroke-width="0.25" text-anchor="end">80</text>
<text x="70" y="1126.8" font-size="20.6" stroke="#000" stroke-width="0.25" text-anchor="end">40</text>
<text x="70" y="1192.6" font-size="20.6" stroke="#000" stroke-width="0.25" text-anchor="end">0</text>
<path d="M222.3,1185.9v8M221.2,1185.9v8M220.1,1185.9v8M219,1185.9v8M224.6,1185.9v8M225.7,1185.9v8M226.9,1185.9v8M228.1,1185.9v8M230.4,1185.9v8M231.6,1185.9v8M232.8,1185.9v8M234,1185.9v8" stroke="#000" stroke-width="0.95" fill="none"/>
<path d="M125.7,1185.9v18M132.2,1185.9v8M139.4,1185.9v8M148.8,1185.9v8M158.2,1185.9v8M167.7,1185.9v13M179.4,1185.9v8M188.9,1185.9v8M200.6,1185.9v8M212.4,1185.9v18M235.6,1185.9v18M245.1,1185.9v8M257.2,1185.9v8M268.2,1185.9v8M278.1,1185.9v13M287.5,1185.9v8M297.3,1185.9v8M306.7,1185.9v8M314.1,1185.9v8M323.2,1185.9v18M374.7,1185.9v8M405.2,1185.9v8M426.4,1185.9v8M442.6,1185.9v13M454.2,1185.9v8M463.6,1185.9v8M473.5,1185.9v8M482.6,1185.9v8M486.9,1185.9v18M531.7,1185.9v8M557.6,1185.9v8M574.1,1185.9v8M587.9,1185.9v13M600,1185.9v8M607.1,1185.9v8M616.6,1185.9v8M623.6,1185.9v8M630.3,1185.9v18M670.8,1185.9v8M217.3,1185.9v13M215,1185.9v8M229.3,1185.9v13" stroke="#000" stroke-width="1.5" fill="none"/>
<path d="M223.4,1185.9v18" stroke="#000" stroke-width="3.5" fill="none"/>
<path d="M88.6,1184.6H687.8" stroke="#7fe3f7" stroke-width="1" opacity="0.45" fill="none"/>
<text x="110.4" y="1226.4" font-size="20.6" stroke="#000" stroke-width="0.25" text-anchor="end">-</text>
<text x="109.9" y="1226.4" font-size="20.6" stroke="#000" stroke-width="0.25">10<tspan dy="-10.9" dx="0.2">3</tspan></text>
<text x="306.6" y="1226.4" font-size="20.6" stroke="#000" stroke-width="0.25">10<tspan dy="-10.9" dx="0.2">3</tspan></text>
<text x="469.7" y="1226.4" font-size="20.6" stroke="#000" stroke-width="0.25">10<tspan dy="-10.9" dx="0.2">4</tspan></text>
<text x="612.5" y="1226.4" font-size="20.6" stroke="#000" stroke-width="0.25">10<tspan dy="-10.9" dx="0.2">5</tspan></text>
<text x="222.4" y="1226.4" font-size="20.6" stroke="#000" stroke-width="0.25" text-anchor="middle">0</text>
</g>
<g id="p17">
<text x="1042.3" y="997.8" font-size="25" text-anchor="middle" stroke="#000" stroke-width="0.45">BNZR2.13R</text>
<clipPath id="cp17"><rect x="762.1" y="1008.3" width="601.1" height="178.7"/></clipPath>
<g clip-path="url(#cp17)">
<path d="M761.6,1186L761.6,1009.1L762.8,1063.9L764.4,1126.5L766.3,1154.6L770,1157.8L776.3,1156.2L785.7,1158.4L795.1,1158.7L804.5,1160.9L813.9,1164L823.2,1165.6L829.5,1164.7L838.9,1167.8L851.4,1167.2L863.9,1168.7L879.6,1167.8L895.2,1166.5L910.9,1167.2L920.3,1165.6L932.8,1164.7L948.4,1164.7L964.1,1161.5L976.6,1157.8L989.1,1154.6L1001.6,1150L1014.1,1145.3L1026.7,1139L1039.2,1132.7L1048.6,1123.3L1058,1115.5L1062.7,1114L1067.3,1106.1L1076.7,1095.2L1084.6,1085.8L1089.3,1079.5L1093.9,1079.5L1098.6,1063.9L1101.8,1060.8L1104.9,1060.8L1109.6,1049.8L1114.3,1040.4L1119,1040.4L1123.7,1032.6L1128.4,1024.8L1133.1,1023.8L1136.2,1025.7L1140.9,1029.5L1144,1027L1148.7,1031L1153.4,1037.3L1159.7,1043.5L1164.4,1054.5L1169.1,1070.1L1173.8,1085.8L1178.4,1101.4L1183.1,1117.1L1189.4,1139L1195.7,1157.8L1201.9,1170.3L1211.3,1179.7L1220.7,1184.4L1230.1,1186L1230.1,1186Z" fill="rgba(178,253,90,0.43)"/>
<path d="M761.6,1009.1L762.8,1063.9L764.4,1126.5L766.3,1154.6L770,1157.8L776.3,1156.2L785.7,1158.4L795.1,1158.7L804.5,1160.9L813.9,1164L823.2,1165.6L829.5,1164.7L838.9,1167.8L851.4,1167.2L863.9,1168.7L879.6,1167.8L895.2,1166.5L910.9,1167.2L920.3,1165.6L932.8,1164.7L948.4,1164.7L964.1,1161.5L976.6,1157.8L989.1,1154.6L1001.6,1150L1014.1,1145.3L1026.7,1139L1039.2,1132.7L1048.6,1123.3L1058,1115.5L1062.7,1114L1067.3,1106.1L1076.7,1095.2L1084.6,1085.8L1089.3,1079.5L1093.9,1079.5L1098.6,1063.9L1101.8,1060.8L1104.9,1060.8L1109.6,1049.8L1114.3,1040.4L1119,1040.4L1123.7,1032.6L1128.4,1024.8L1133.1,1023.8L1136.2,1025.7L1140.9,1029.5L1144,1027L1148.7,1031L1153.4,1037.3L1159.7,1043.5L1164.4,1054.5L1169.1,1070.1L1173.8,1085.8L1178.4,1101.4L1183.1,1117.1L1189.4,1139L1195.7,1157.8L1201.9,1170.3L1211.3,1179.7L1220.7,1184.4L1230.1,1186" fill="none" stroke="#b1e56e" stroke-width="1.6" stroke-linejoin="round"/>
<path d="M876.4,1186L876.4,1185.9L881.1,1181.2L884.3,1164L886.5,1132.7L888.3,1095.2L890.2,1060.8L892.1,1032.6L894,1017.6L896.8,1023.2L898.3,1042L900.5,1073.3L903,1104.6L906.2,1135.9L909.3,1157.8L914,1171.9L920.3,1179.7L929.6,1183.4L948.4,1184.7L976.6,1184.4L995.4,1185.3L1026.7,1185.9L1026.7,1186Z" fill="rgba(22,220,250,0.43)"/>
<path d="M876.4,1185.9L881.1,1181.2L884.3,1164L886.5,1132.7L888.3,1095.2L890.2,1060.8L892.1,1032.6L894,1017.6L896.8,1023.2L898.3,1042L900.5,1073.3L903,1104.6L906.2,1135.9L909.3,1157.8L914,1171.9L920.3,1179.7L929.6,1183.4L948.4,1184.7L976.6,1184.4L995.4,1185.3L1026.7,1185.9" fill="none" stroke="#2fb0d4" stroke-width="1.75" stroke-linejoin="round"/>
</g>
<rect x="762.1" y="1008.3" width="601.1" height="177.7" fill="none" stroke="#000" stroke-width="1.8"/>
<path d="M755.1,1008.3h7M745.9,1184.8h16.2M755.1,1176.6h7M755.1,1168.4h7M755.1,1160.2h7M745.9,1152h16.2M755.1,1143.2h7M755.1,1134.5h7M755.1,1125.7h7M745.9,1116.9h16.2M755.1,1108.7h7M755.1,1100.4h7M755.1,1092.2h7M745.9,1084h16.2M755.1,1075.8h7M755.1,1067.5h7M755.1,1059.3h7M745.9,1051.1h16.2M755.1,1042.9h7M755.1,1034.6h7M755.1,1026.4h7M745.9,1018.2h16.2" stroke="#000" stroke-width="1.5" fill="none"/>
<text x="741.9" y="1061.8" font-size="20.6" stroke="#000" stroke-width="0.25" text-anchor="end">80</text>
<text x="741.9" y="1126.8" font-size="20.6" stroke="#000" stroke-width="0.25" text-anchor="end">40</text>
<text x="741.9" y="1192.6" font-size="20.6" stroke="#000" stroke-width="0.25" text-anchor="end">0</text>
<path d="M895.8,1186v8M894.7,1186v8M893.6,1186v8M892.5,1186v8M898.1,1186v8M899.3,1186v8M900.4,1186v8M901.6,1186v8M904,1186v8M905.1,1186v8M906.3,1186v8M907.5,1186v8" stroke="#000" stroke-width="0.95" fill="none"/>
<path d="M799.1,1186v18M805.6,1186v8M812.8,1186v8M822.2,1186v8M831.7,1186v8M841.1,1186v13M852.9,1186v8M862.3,1186v8M874.1,1186v8M885.9,1186v18M909.2,1186v18M918.6,1186v8M930.8,1186v8M941.7,1186v8M951.7,1186v13M961.1,1186v8M970.9,1186v8M980.3,1186v8M987.7,1186v8M996.8,1186v18M1048.4,1186v8M1078.9,1186v8M1100.2,1186v8M1116.3,1186v13M1128,1186v8M1137.4,1186v8M1147.3,1186v8M1156.4,1186v8M1160.8,1186v18M1205.6,1186v8M1231.5,1186v8M1248,1186v8M1261.9,1186v13M1274,1186v8M1281.1,1186v8M1290.5,1186v8M1297.6,1186v8M1304.3,1186v18M1344.8,1186v8M890.8,1186v13M888.5,1186v8M902.8,1186v13" stroke="#000" stroke-width="1.5" fill="none"/>
<path d="M896.9,1186v18" stroke="#000" stroke-width="3.5" fill="none"/>
<path d="M763.1,1184.7H1362.2" stroke="#7fe3f7" stroke-width="1" opacity="0.45" fill="none"/>
<text x="786.7" y="1226.4" font-size="20.6" stroke="#000" stroke-width="0.25" text-anchor="end">-</text>
<text x="786.2" y="1226.4" font-size="20.6" stroke="#000" stroke-width="0.25">10<tspan dy="-10.9" dx="0.2">3</tspan></text>
<text x="982.9" y="1226.4" font-size="20.6" stroke="#000" stroke-width="0.25">10<tspan dy="-10.9" dx="0.2">3</tspan></text>
<text x="1146" y="1226.4" font-size="20.6" stroke="#000" stroke-width="0.25">10<tspan dy="-10.9" dx="0.2">4</tspan></text>
<text x="1288.8" y="1226.4" font-size="20.6" stroke="#000" stroke-width="0.25">10<tspan dy="-10.9" dx="0.2">5</tspan></text>
<text x="898.7" y="1226.4" font-size="20.6" stroke="#000" stroke-width="0.25" text-anchor="middle">0</text>
</g>
<g id="p18">
<text x="1757.6" y="997.8" font-size="25" text-anchor="middle" stroke="#000" stroke-width="0.45">BNZR2.14R</text>
<clipPath id="cp18"><rect x="1441.4" y="1008" width="602.1" height="179"/></clipPath>
<g clip-path="url(#cp18)">
<path d="M1442.6,1186L1442.6,1148.4L1445.7,1150L1448.8,1139L1451.9,1120.2L1455.1,1101.4L1458.2,1082.7L1461.3,1067L1464.5,1056.1L1467.6,1052L1470.7,1056.1L1473.9,1070.1L1477,1085.8L1480.1,1098.3L1483.2,1110.8L1486.4,1123.3L1489.5,1131.2L1494.2,1133.4L1498.9,1135.9L1505.1,1140.6L1513,1141.5L1520.8,1138.4L1527.1,1140.6L1534.9,1138.4L1542.7,1143.7L1552.1,1148.4L1558.3,1150.6L1567.7,1146.8L1577.1,1149L1586.5,1148.4L1599,1145.9L1611.6,1143.7L1620.9,1143.7L1627.2,1140.6L1633.5,1142.8L1642.8,1141.5L1655.4,1139L1664.8,1131.2L1671,1130.2L1677.3,1128L1683.5,1125.9L1689.8,1123.3L1696.1,1115.5L1700.7,1110.8L1707,1109.9L1713.3,1104.6L1719.5,1098.3L1725.8,1088.9L1732,1081.1L1738.3,1076.4L1744.6,1073.9L1749.3,1067L1752.4,1060.8L1757.1,1059.2L1761.8,1054.5L1764.9,1046.7L1769.6,1042L1774.3,1037.3L1779,1027.9L1782.1,1031L1785.2,1037.3L1789.9,1031L1794.6,1026.3L1799.3,1025.7L1804,1029.5L1807.2,1029.5L1811.8,1037.3L1816.5,1046.7L1821.2,1049.8L1825.9,1060.8L1830.6,1070.1L1835.3,1082.7L1840,1095.2L1844.7,1110.8L1849.4,1126.5L1855.7,1143.7L1861.9,1159.3L1868.2,1170.3L1874.4,1178.1L1882.3,1182.8L1890.1,1185.9L1890.1,1186Z" fill="rgba(178,253,90,0.43)"/>
<path d="M1442.6,1148.4L1445.7,1150L1448.8,1139L1451.9,1120.2L1455.1,1101.4L1458.2,1082.7L1461.3,1067L1464.5,1056.1L1467.6,1052L1470.7,1056.1L1473.9,1070.1L1477,1085.8L1480.1,1098.3L1483.2,1110.8L1486.4,1123.3L1489.5,1131.2L1494.2,1133.4L1498.9,1135.9L1505.1,1140.6L1513,1141.5L1520.8,1138.4L1527.1,1140.6L1534.9,1138.4L1542.7,1143.7L1552.1,1148.4L1558.3,1150.6L1567.7,1146.8L1577.1,1149L1586.5,1148.4L1599,1145.9L1611.6,1143.7L1620.9,1143.7L1627.2,1140.6L1633.5,1142.8L1642.8,1141.5L1655.4,1139L1664.8,1131.2L1671,1130.2L1677.3,1128L1683.5,1125.9L1689.8,1123.3L1696.1,1115.5L1700.7,1110.8L1707,1109.9L1713.3,1104.6L1719.5,1098.3L1725.8,1088.9L1732,1081.1L1738.3,1076.4L1744.6,1073.9L1749.3,1067L1752.4,1060.8L1757.1,1059.2L1761.8,1054.5L1764.9,1046.7L1769.6,1042L1774.3,1037.3L1779,1027.9L1782.1,1031L1785.2,1037.3L1789.9,1031L1794.6,1026.3L1799.3,1025.7L1804,1029.5L1807.2,1029.5L1811.8,1037.3L1816.5,1046.7L1821.2,1049.8L1825.9,1060.8L1830.6,1070.1L1835.3,1082.7L1840,1095.2L1844.7,1110.8L1849.4,1126.5L1855.7,1143.7L1861.9,1159.3L1868.2,1170.3L1874.4,1178.1L1882.3,1182.8L1890.1,1185.9" fill="none" stroke="#b1e56e" stroke-width="1.6" stroke-linejoin="round"/>
<path d="M1559.9,1186L1559.9,1185.9L1563,1179.7L1565.2,1164L1567.1,1139L1569,1104.6L1570.9,1070.1L1572.7,1042L1574.6,1026.3L1576.8,1016.9L1578.7,1032.6L1580.3,1054.5L1582.1,1085.8L1584,1114L1586.5,1139L1589.6,1157.8L1594.3,1170.3L1600.6,1176.6L1611.6,1181.2L1630.3,1183.8L1655.4,1185L1686.7,1185.6L1718,1185.9L1718,1186Z" fill="rgba(22,220,250,0.43)"/>
<path d="M1559.9,1185.9L1563,1179.7L1565.2,1164L1567.1,1139L1569,1104.6L1570.9,1070.1L1572.7,1042L1574.6,1026.3L1576.8,1016.9L1578.7,1032.6L1580.3,1054.5L1582.1,1085.8L1584,1114L1586.5,1139L1589.6,1157.8L1594.3,1170.3L1600.6,1176.6L1611.6,1181.2L1630.3,1183.8L1655.4,1185L1686.7,1185.6L1718,1185.9" fill="none" stroke="#2fb0d4" stroke-width="1.75" stroke-linejoin="round"/>
</g>
<rect x="1441.4" y="1008" width="602.1" height="178" fill="none" stroke="#000" stroke-width="1.8"/>
<path d="M1434.4,1008h7M1425.2,1184.8h16.2M1434.4,1176.6h7M1434.4,1168.4h7M1434.4,1160.2h7M1425.2,1152h16.2M1434.4,1143.2h7M1434.4,1134.5h7M1434.4,1125.7h7M1425.2,1116.9h16.2M1434.4,1108.7h7M1434.4,1100.4h7M1434.4,1092.2h7M1425.2,1084h16.2M1434.4,1075.8h7M1434.4,1067.5h7M1434.4,1059.3h7M1425.2,1051.1h16.2M1434.4,1042.9h7M1434.4,1034.6h7M1434.4,1026.4h7M1425.2,1018.2h16.2" stroke="#000" stroke-width="1.5" fill="none"/>
<text x="1420" y="1061.8" font-size="20.6" stroke="#000" stroke-width="0.25" text-anchor="end">80</text>
<text x="1420" y="1126.8" font-size="20.6" stroke="#000" stroke-width="0.25" text-anchor="end">40</text>
<text x="1420" y="1192.6" font-size="20.6" stroke="#000" stroke-width="0.25" text-anchor="end">0</text>
<path d="M1576.6,1186v8M1575.5,1186v8M1574.4,1186v8M1573.3,1186v8M1578.8,1186v8M1580,1186v8M1581.2,1186v8M1582.3,1186v8M1584.7,1186v8M1585.9,1186v8M1587,1186v8M1588.2,1186v8" stroke="#000" stroke-width="0.95" fill="none"/>
<path d="M1480.1,1186v18M1486.6,1186v8M1493.7,1186v8M1503.2,1186v8M1512.6,1186v8M1522,1186v13M1533.7,1186v8M1543.2,1186v8M1554.9,1186v8M1566.7,1186v18M1589.9,1186v18M1599.3,1186v8M1611.4,1186v8M1622.4,1186v8M1632.3,1186v13M1641.7,1186v8M1651.4,1186v8M1660.9,1186v8M1668.2,1186v8M1677.3,1186v18M1728.7,1186v8M1759.2,1186v8M1780.4,1186v8M1796.5,1186v13M1808.1,1186v8M1817.6,1186v8M1827.4,1186v8M1836.5,1186v8M1840.8,1186v18M1885.5,1186v8M1911.4,1186v8M1927.9,1186v8M1941.7,1186v13M1953.7,1186v8M1960.8,1186v8M1970.3,1186v8M1977.3,1186v8M1984,1186v18M2024.4,1186v8M1571.5,1186v13M1569.2,1186v8M1583.5,1186v13" stroke="#000" stroke-width="1.5" fill="none"/>
<path d="M1577.7,1186v18" stroke="#000" stroke-width="3.5" fill="none"/>
<path d="M1442.4,1184.7H2042.5" stroke="#7fe3f7" stroke-width="1" opacity="0.45" fill="none"/>
<text x="1465.5" y="1226.4" font-size="20.6" stroke="#000" stroke-width="0.25" text-anchor="end">-</text>
<text x="1465" y="1226.4" font-size="20.6" stroke="#000" stroke-width="0.25">10<tspan dy="-10.9" dx="0.2">3</tspan></text>
<text x="1661.7" y="1226.4" font-size="20.6" stroke="#000" stroke-width="0.25">10<tspan dy="-10.9" dx="0.2">3</tspan></text>
<text x="1824.8" y="1226.4" font-size="20.6" stroke="#000" stroke-width="0.25">10<tspan dy="-10.9" dx="0.2">4</tspan></text>
<text x="1967.6" y="1226.4" font-size="20.6" stroke="#000" stroke-width="0.25">10<tspan dy="-10.9" dx="0.2">5</tspan></text>
<text x="1577.5" y="1226.4" font-size="20.6" stroke="#000" stroke-width="0.25" text-anchor="middle">0</text>
</g>
<text x="1025" y="1267" font-size="33.2" stroke="#000" stroke-width="0.4" text-anchor="middle">FITC-A:: eGFP</text>
<text transform="translate(23.4,550.8) rotate(-90)" font-size="33.35" stroke="#000" stroke-width="0.4" text-anchor="middle">Normalized To Mode</text>
<rect x="1712" y="1239.8" width="54.5" height="24" fill="#defdb4"/>
<text x="1771.5" y="1263.3" font-size="25" stroke="#000" stroke-width="0.35">12 h</text>
<rect x="1874.6" y="1239.8" width="54.5" height="24" fill="#9bf0fd"/>
<text x="1935" y="1263.3" font-size="25" stroke="#000" stroke-width="0.35">24 h</text>
</svg>
</body></html>
